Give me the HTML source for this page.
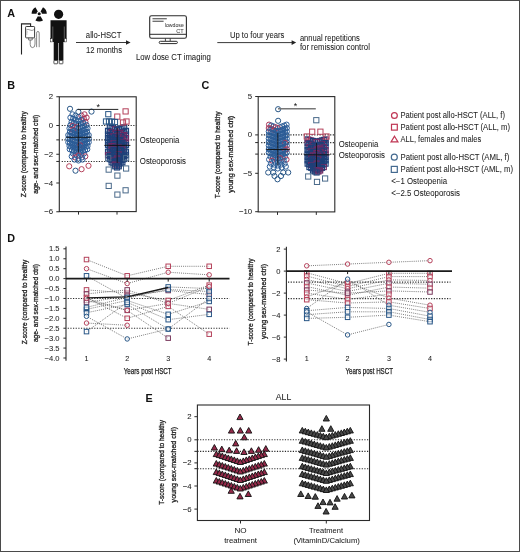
<!DOCTYPE html>
<html><head><meta charset="utf-8"><style>
html,body{margin:0;padding:0;background:#fff;overflow:hidden;}
svg{display:block;font-family:"Liberation Sans", sans-serif;will-change:transform;}
</style></head><body>
<svg width="520" height="552" viewBox="0 0 520 552">
<rect x="0.5" y="0.5" width="519" height="551" fill="none" stroke="#4a4a4a" stroke-width="1"/>
<text x="7.2" y="16.6" font-size="10.8" text-anchor="start" fill="#111" font-weight="bold">A</text>
<text x="7.2" y="89.3" font-size="10.8" text-anchor="start" fill="#111" font-weight="bold">B</text>
<text x="201.6" y="89.3" font-size="10.8" text-anchor="start" fill="#111" font-weight="bold">C</text>
<text x="7.2" y="241.8" font-size="10.8" text-anchor="start" fill="#111" font-weight="bold">D</text>
<text x="145.6" y="402.0" font-size="10.8" text-anchor="start" fill="#111" font-weight="bold">E</text>
<circle cx="39.2" cy="13.8" r="1.55" fill="#111"/>
<path d="M36.50,13.80 L31.60,13.80 A7.6,7.6 0 0 1 35.40,7.22 L37.85,11.46 A2.7,2.7 0 0 0 36.50,13.80 Z" fill="#111"/>
<path d="M40.55,11.46 L43.00,7.22 A7.6,7.6 0 0 1 46.80,13.80 L41.90,13.80 A2.7,2.7 0 0 0 40.55,11.46 Z" fill="#111"/>
<path d="M40.55,16.14 L43.00,20.38 A7.6,7.6 0 0 1 35.40,20.38 L37.85,16.14 A2.7,2.7 0 0 0 40.55,16.14 Z" fill="#111"/>
<circle cx="58.6" cy="14.3" r="4.6" fill="#111"/>
<path d="M50.5,20.2 L66.6,20.2 L66.6,38.7 L64.4,38.7 L64.4,42.0 L63.4,42.0 L63.4,60.4 L58.7,60.4 L58.7,43.0 L58.1,43.0 L58.1,60.4 L53.7,60.4 L53.7,42.0 L52.7,42.0 L52.7,38.7 L50.5,38.7 Z" fill="#111"/>
<rect x="50.6" y="38.7" width="2.0" height="3.2" fill="#fff" stroke="#111" stroke-width="0.5"/>
<rect x="64.5" y="38.7" width="2.0" height="3.2" fill="#fff" stroke="#111" stroke-width="0.5"/>
<rect x="53.9" y="60.4" width="3.7" height="3.4" rx="0.5" fill="#fff" stroke="#111" stroke-width="0.7"/>
<rect x="59.2" y="60.4" width="3.7" height="3.4" rx="0.5" fill="#fff" stroke="#111" stroke-width="0.7"/>
<line x1="52.8" y1="26.5" x2="52.8" y2="38.7" stroke="#bbb" stroke-width="0.45"/>
<line x1="64.3" y1="26.5" x2="64.3" y2="38.7" stroke="#bbb" stroke-width="0.45"/>
<path d="M21.5,54.4 L21.5,23.9 L30.6,23.9 L30.6,26.0" fill="none" stroke="#222" stroke-width="1.1"/>
<rect x="25.6" y="26.5" width="9.0" height="11.4" rx="0.8" fill="#fff" stroke="#222" stroke-width="0.9"/>
<path d="M26.2,30.0 Q28,28.8 30,30 T34,29.6" fill="none" stroke="#555" stroke-width="0.6"/>
<line x1="26.0" y1="32.0" x2="28.0" y2="32.0" stroke="#777" stroke-width="0.5"/>
<line x1="26.0" y1="34.0" x2="27.6" y2="34.0" stroke="#777" stroke-width="0.5"/>
<path d="M28.6,37.9 L28.6,40.0 L32.2,40.0 L32.2,37.9" fill="none" stroke="#444" stroke-width="0.7"/>
<path d="M30.2,40.0 L30.2,44.5 Q30.2,47.6 32.6,47.6 Q35.0,47.6 35.0,44.0 L35.0,37.9" fill="none" stroke="#555" stroke-width="0.7"/>
<path d="M36.6,47.2 L36.6,33.2 Q36.6,31.4 37.9,31.4 Q39.2,31.4 39.2,33.2 L39.2,47.2" fill="none" stroke="#555" stroke-width="0.7"/>
<line x1="76.0" y1="42.5" x2="127.0" y2="42.5" stroke="#222" stroke-width="0.9"/>
<path d="M130.6,42.5 L126.0,40.2 L126.0,44.8 Z" fill="#222"/>
<text x="103.6" y="37.8" font-size="8.3" text-anchor="middle" fill="#222" font-weight="normal" stroke="#222" stroke-width="0.05" textLength="35.5" lengthAdjust="spacingAndGlyphs">allo-HSCT</text>
<text x="104.0" y="53.0" font-size="8.3" text-anchor="middle" fill="#222" font-weight="normal" stroke="#222" stroke-width="0.05" textLength="36" lengthAdjust="spacingAndGlyphs">12 months</text>
<rect x="149.7" y="15.7" width="36.7" height="22.5" rx="1.8" fill="#fff" stroke="#2a2a2a" stroke-width="1.1"/>
<line x1="149.7" y1="34.3" x2="186.4" y2="34.3" stroke="#2a2a2a" stroke-width="1.0"/>
<line x1="165.4" y1="38.3" x2="165.4" y2="41.2" stroke="#333" stroke-width="0.9"/>
<line x1="170.2" y1="38.3" x2="170.2" y2="41.2" stroke="#333" stroke-width="0.9"/>
<rect x="159.2" y="41.3" width="18.2" height="2.3" rx="1.15" fill="#fff" stroke="#2a2a2a" stroke-width="1.0"/>
<line x1="152.5" y1="18.7" x2="166.8" y2="18.7" stroke="#6a6a6a" stroke-width="1.3"/>
<line x1="152.5" y1="21.3" x2="163.6" y2="21.3" stroke="#6a6a6a" stroke-width="1.3"/>
<text x="183.8" y="26.9" font-size="5.6" text-anchor="end" fill="#444" font-weight="normal" stroke="#444" stroke-width="0.05" textLength="19.0" lengthAdjust="spacingAndGlyphs">lowdose</text>
<text x="183.8" y="33.1" font-size="5.6" text-anchor="end" fill="#444" font-weight="normal" stroke="#444" stroke-width="0.05">CT</text>
<text x="136.0" y="59.8" font-size="8.3" text-anchor="start" fill="#222" font-weight="normal" stroke="#222" stroke-width="0.05" textLength="74.8" lengthAdjust="spacingAndGlyphs">Low dose CT imaging</text>
<line x1="217.3" y1="42.6" x2="292.5" y2="42.6" stroke="#222" stroke-width="0.9"/>
<path d="M296.2,42.6 L291.6,40.3 L291.6,44.9 Z" fill="#222"/>
<text x="229.9" y="38.1" font-size="8.3" text-anchor="start" fill="#222" font-weight="normal" stroke="#222" stroke-width="0.05" textLength="54.5" lengthAdjust="spacingAndGlyphs">Up to four years</text>
<text x="299.9" y="40.5" font-size="8.3" text-anchor="start" fill="#222" font-weight="normal" stroke="#222" stroke-width="0.05" textLength="60" lengthAdjust="spacingAndGlyphs">annual repetitions</text>
<text x="299.9" y="50.0" font-size="8.3" text-anchor="start" fill="#222" font-weight="normal" stroke="#222" stroke-width="0.05" textLength="70" lengthAdjust="spacingAndGlyphs">for remission control</text>
<rect x="59.3" y="96.8" width="76.89999999999999" height="114.8" fill="none" stroke="#2a2a2a" stroke-width="1.1"/>
<line x1="56.3" y1="96.75" x2="59.3" y2="96.75" stroke="#2a2a2a" stroke-width="1.0"/>
<text x="53.2" y="99.25" font-size="7.8" text-anchor="end" fill="#222" font-weight="normal" stroke="#222" stroke-width="0.05">2</text>
<line x1="56.3" y1="125.5" x2="59.3" y2="125.5" stroke="#2a2a2a" stroke-width="1.0"/>
<text x="53.2" y="128.0" font-size="7.8" text-anchor="end" fill="#222" font-weight="normal" stroke="#222" stroke-width="0.05">0</text>
<line x1="56.3" y1="154.25" x2="59.3" y2="154.25" stroke="#2a2a2a" stroke-width="1.0"/>
<text x="53.2" y="156.75" font-size="7.8" text-anchor="end" fill="#222" font-weight="normal" stroke="#222" stroke-width="0.05">−2</text>
<line x1="56.3" y1="183.0" x2="59.3" y2="183.0" stroke="#2a2a2a" stroke-width="1.0"/>
<text x="53.2" y="185.5" font-size="7.8" text-anchor="end" fill="#222" font-weight="normal" stroke="#222" stroke-width="0.05">−4</text>
<line x1="56.3" y1="211.75" x2="59.3" y2="211.75" stroke="#2a2a2a" stroke-width="1.0"/>
<text x="53.2" y="214.25" font-size="7.8" text-anchor="end" fill="#222" font-weight="normal" stroke="#222" stroke-width="0.05">−6</text>
<line x1="78.5" y1="211.6" x2="78.5" y2="214.6" stroke="#2a2a2a" stroke-width="1.0"/>
<line x1="117.0" y1="211.6" x2="117.0" y2="214.6" stroke="#2a2a2a" stroke-width="1.0"/>
<text transform="translate(26.3,154.3) rotate(-90)" x="0" y="0" font-size="7.5" text-anchor="middle" fill="#222" stroke="#222" stroke-width="0.3" textLength="86" lengthAdjust="spacingAndGlyphs">Z-score (compared to healthy</text>
<text transform="translate(37.7,154.3) rotate(-90)" x="0" y="0" font-size="7.5" text-anchor="middle" fill="#222" stroke="#222" stroke-width="0.3" textLength="79" lengthAdjust="spacingAndGlyphs">age- and sex-matched ctrl)</text>
<text x="139.8" y="142.9" font-size="8.3" text-anchor="start" fill="#222" font-weight="normal" stroke="#222" stroke-width="0.05" textLength="39.5" lengthAdjust="spacingAndGlyphs">Osteopenia</text>
<text x="139.8" y="164.0" font-size="8.3" text-anchor="start" fill="#222" font-weight="normal" stroke="#222" stroke-width="0.05" textLength="46.2" lengthAdjust="spacingAndGlyphs">Osteoporosis</text>
<rect x="258.2" y="96.6" width="76.60000000000002" height="115.30000000000001" fill="none" stroke="#2a2a2a" stroke-width="1.1"/>
<line x1="255.2" y1="96.5" x2="258.2" y2="96.5" stroke="#2a2a2a" stroke-width="1.0"/>
<text x="252.2" y="99.0" font-size="7.8" text-anchor="end" fill="#222" font-weight="normal" stroke="#222" stroke-width="0.05">5</text>
<line x1="255.2" y1="134.9" x2="258.2" y2="134.9" stroke="#2a2a2a" stroke-width="1.0"/>
<text x="252.2" y="137.4" font-size="7.8" text-anchor="end" fill="#222" font-weight="normal" stroke="#222" stroke-width="0.05">0</text>
<line x1="255.2" y1="173.3" x2="258.2" y2="173.3" stroke="#2a2a2a" stroke-width="1.0"/>
<text x="252.2" y="175.8" font-size="7.8" text-anchor="end" fill="#222" font-weight="normal" stroke="#222" stroke-width="0.05">−5</text>
<line x1="255.2" y1="211.7" x2="258.2" y2="211.7" stroke="#2a2a2a" stroke-width="1.0"/>
<text x="252.2" y="214.2" font-size="7.8" text-anchor="end" fill="#222" font-weight="normal" stroke="#222" stroke-width="0.05">−10</text>
<line x1="277.5" y1="211.9" x2="277.5" y2="214.9" stroke="#2a2a2a" stroke-width="1.0"/>
<line x1="316.3" y1="211.9" x2="316.3" y2="214.9" stroke="#2a2a2a" stroke-width="1.0"/>
<text transform="translate(220.4,154.8) rotate(-90)" x="0" y="0" font-size="7.5" text-anchor="middle" fill="#222" stroke="#222" stroke-width="0.3" textLength="87" lengthAdjust="spacingAndGlyphs">T-score (compared to healthy</text>
<text transform="translate(232.7,154.3) rotate(-90)" x="0" y="0" font-size="7.5" text-anchor="middle" fill="#222" stroke="#222" stroke-width="0.3" textLength="77" lengthAdjust="spacingAndGlyphs">young sex-matched ctrl)</text>
<text x="338.7" y="146.5" font-size="8.3" text-anchor="start" fill="#222" font-weight="normal" stroke="#222" stroke-width="0.05" textLength="39.5" lengthAdjust="spacingAndGlyphs">Osteopenia</text>
<text x="338.7" y="157.8" font-size="8.3" text-anchor="start" fill="#222" font-weight="normal" stroke="#222" stroke-width="0.05" textLength="46.2" lengthAdjust="spacingAndGlyphs">Osteoporosis</text>
<circle cx="394.40" cy="115.50" r="2.90" fill="none" stroke="#bf3553" stroke-width="1.2"/>
<rect x="391.50" y="124.30" width="5.80" height="5.80" fill="none" stroke="#bf3553" stroke-width="1.2"/>
<path d="M394.50,136.27 L397.95,141.97 L391.05,141.97 Z" fill="none" stroke="#bf3553" stroke-width="1.2" stroke-linejoin="miter"/>
<circle cx="394.30" cy="157.20" r="3.00" fill="none" stroke="#43698f" stroke-width="1.2"/>
<rect x="391.30" y="166.40" width="6.00" height="6.00" fill="none" stroke="#43698f" stroke-width="1.2"/>
<text x="400.5" y="118.2" font-size="8.3" text-anchor="start" fill="#222" font-weight="normal" stroke="#222" stroke-width="0.05" textLength="104.5" lengthAdjust="spacingAndGlyphs">Patient post allo-HSCT (ALL, f)</text>
<text x="400.5" y="129.6" font-size="8.3" text-anchor="start" fill="#222" font-weight="normal" stroke="#222" stroke-width="0.05" textLength="109.5" lengthAdjust="spacingAndGlyphs">Patient post allo-HSCT (ALL, m)</text>
<text x="400.5" y="142.0" font-size="8.3" text-anchor="start" fill="#222" font-weight="normal" stroke="#222" stroke-width="0.05" textLength="80.8" lengthAdjust="spacingAndGlyphs">ALL, females and males</text>
<text x="400.5" y="160.2" font-size="8.3" text-anchor="start" fill="#222" font-weight="normal" stroke="#222" stroke-width="0.05" textLength="108.8" lengthAdjust="spacingAndGlyphs">Patient post allo-HSCT (AML, f)</text>
<text x="400.5" y="171.6" font-size="8.3" text-anchor="start" fill="#222" font-weight="normal" stroke="#222" stroke-width="0.05" textLength="112.5" lengthAdjust="spacingAndGlyphs">Patient post allo-HSCT (AML, m)</text>
<text x="391.3" y="184.0" font-size="8.3" text-anchor="start" fill="#222" font-weight="normal" stroke="#222" stroke-width="0.05" textLength="55.7" lengthAdjust="spacingAndGlyphs">&lt;−1 Osteopenia</text>
<text x="391.3" y="196.0" font-size="8.3" text-anchor="start" fill="#222" font-weight="normal" stroke="#222" stroke-width="0.05" textLength="68.7" lengthAdjust="spacingAndGlyphs">&lt;−2.5 Osteoporosis</text>
<line x1="66.0" y1="246.5" x2="66.0" y2="360.8" stroke="#2a2a2a" stroke-width="1.1"/>
<line x1="63.4" y1="248.82500000000002" x2="66.0" y2="248.82500000000002" stroke="#2a2a2a" stroke-width="1.0"/>
<text x="59.6" y="251.32500000000002" font-size="7.6" text-anchor="end" fill="#222" font-weight="normal" stroke="#222" stroke-width="0.05">1.5</text>
<line x1="63.4" y1="258.75" x2="66.0" y2="258.75" stroke="#2a2a2a" stroke-width="1.0"/>
<text x="59.6" y="261.25" font-size="7.6" text-anchor="end" fill="#222" font-weight="normal" stroke="#222" stroke-width="0.05">1.0</text>
<line x1="63.4" y1="268.675" x2="66.0" y2="268.675" stroke="#2a2a2a" stroke-width="1.0"/>
<text x="59.6" y="271.175" font-size="7.6" text-anchor="end" fill="#222" font-weight="normal" stroke="#222" stroke-width="0.05">0.5</text>
<line x1="63.4" y1="278.6" x2="66.0" y2="278.6" stroke="#2a2a2a" stroke-width="1.0"/>
<text x="59.6" y="281.1" font-size="7.6" text-anchor="end" fill="#222" font-weight="normal" stroke="#222" stroke-width="0.05">0.0</text>
<line x1="63.4" y1="288.52500000000003" x2="66.0" y2="288.52500000000003" stroke="#2a2a2a" stroke-width="1.0"/>
<text x="59.6" y="291.02500000000003" font-size="7.6" text-anchor="end" fill="#222" font-weight="normal" stroke="#222" stroke-width="0.05">−0.5</text>
<line x1="63.4" y1="298.45000000000005" x2="66.0" y2="298.45000000000005" stroke="#2a2a2a" stroke-width="1.0"/>
<text x="59.6" y="300.95000000000005" font-size="7.6" text-anchor="end" fill="#222" font-weight="normal" stroke="#222" stroke-width="0.05">−1.0</text>
<line x1="63.4" y1="308.375" x2="66.0" y2="308.375" stroke="#2a2a2a" stroke-width="1.0"/>
<text x="59.6" y="310.875" font-size="7.6" text-anchor="end" fill="#222" font-weight="normal" stroke="#222" stroke-width="0.05">−1.5</text>
<line x1="63.4" y1="318.3" x2="66.0" y2="318.3" stroke="#2a2a2a" stroke-width="1.0"/>
<text x="59.6" y="320.8" font-size="7.6" text-anchor="end" fill="#222" font-weight="normal" stroke="#222" stroke-width="0.05">−2.0</text>
<line x1="63.4" y1="328.225" x2="66.0" y2="328.225" stroke="#2a2a2a" stroke-width="1.0"/>
<text x="59.6" y="330.725" font-size="7.6" text-anchor="end" fill="#222" font-weight="normal" stroke="#222" stroke-width="0.05">−2.5</text>
<line x1="63.4" y1="338.15000000000003" x2="66.0" y2="338.15000000000003" stroke="#2a2a2a" stroke-width="1.0"/>
<text x="59.6" y="340.65000000000003" font-size="7.6" text-anchor="end" fill="#222" font-weight="normal" stroke="#222" stroke-width="0.05">−3.0</text>
<line x1="63.4" y1="348.07500000000005" x2="66.0" y2="348.07500000000005" stroke="#2a2a2a" stroke-width="1.0"/>
<text x="59.6" y="350.57500000000005" font-size="7.6" text-anchor="end" fill="#222" font-weight="normal" stroke="#222" stroke-width="0.05">−3.5</text>
<line x1="63.4" y1="358.0" x2="66.0" y2="358.0" stroke="#2a2a2a" stroke-width="1.0"/>
<text x="59.6" y="360.5" font-size="7.6" text-anchor="end" fill="#222" font-weight="normal" stroke="#222" stroke-width="0.05">−4.0</text>
<text transform="translate(27.0,302.0) rotate(-90)" x="0" y="0" font-size="7.5" text-anchor="middle" fill="#222" stroke="#222" stroke-width="0.3" textLength="84.7" lengthAdjust="spacingAndGlyphs">Z-score (compared to healthy</text>
<text transform="translate(38.0,303.1) rotate(-90)" x="0" y="0" font-size="7.5" text-anchor="middle" fill="#222" stroke="#222" stroke-width="0.3" textLength="78" lengthAdjust="spacingAndGlyphs">age- and sex-matched ctrl)</text>
<text x="86.5" y="360.7" font-size="7.2" text-anchor="middle" fill="#222" font-weight="normal" stroke="#222" stroke-width="0.05">1</text>
<text x="127.2" y="360.7" font-size="7.2" text-anchor="middle" fill="#222" font-weight="normal" stroke="#222" stroke-width="0.05">2</text>
<text x="168.2" y="360.7" font-size="7.2" text-anchor="middle" fill="#222" font-weight="normal" stroke="#222" stroke-width="0.05">3</text>
<text x="209.2" y="360.7" font-size="7.2" text-anchor="middle" fill="#222" font-weight="normal" stroke="#222" stroke-width="0.05">4</text>
<text x="147.7" y="373.5" font-size="8.4" text-anchor="middle" fill="#222" font-weight="normal" stroke="#222" stroke-width="0.25" textLength="47.8" lengthAdjust="spacingAndGlyphs">Years post HSCT</text>
<line x1="286.4" y1="246.8" x2="286.4" y2="361.5" stroke="#2a2a2a" stroke-width="1.1"/>
<line x1="283.79999999999995" y1="249.10000000000002" x2="286.4" y2="249.10000000000002" stroke="#2a2a2a" stroke-width="1.0"/>
<text x="280.5" y="251.60000000000002" font-size="7.6" text-anchor="end" fill="#222" font-weight="normal" stroke="#222" stroke-width="0.05">2</text>
<line x1="283.79999999999995" y1="271.1" x2="286.4" y2="271.1" stroke="#2a2a2a" stroke-width="1.0"/>
<text x="280.5" y="273.6" font-size="7.6" text-anchor="end" fill="#222" font-weight="normal" stroke="#222" stroke-width="0.05">0</text>
<line x1="283.79999999999995" y1="293.1" x2="286.4" y2="293.1" stroke="#2a2a2a" stroke-width="1.0"/>
<text x="280.5" y="295.6" font-size="7.6" text-anchor="end" fill="#222" font-weight="normal" stroke="#222" stroke-width="0.05">−2</text>
<line x1="283.79999999999995" y1="315.1" x2="286.4" y2="315.1" stroke="#2a2a2a" stroke-width="1.0"/>
<text x="280.5" y="317.6" font-size="7.6" text-anchor="end" fill="#222" font-weight="normal" stroke="#222" stroke-width="0.05">−4</text>
<line x1="283.79999999999995" y1="337.1" x2="286.4" y2="337.1" stroke="#2a2a2a" stroke-width="1.0"/>
<text x="280.5" y="339.6" font-size="7.6" text-anchor="end" fill="#222" font-weight="normal" stroke="#222" stroke-width="0.05">−6</text>
<line x1="283.79999999999995" y1="359.1" x2="286.4" y2="359.1" stroke="#2a2a2a" stroke-width="1.0"/>
<text x="280.5" y="361.6" font-size="7.6" text-anchor="end" fill="#222" font-weight="normal" stroke="#222" stroke-width="0.05">−8</text>
<text transform="translate(253.2,302.0) rotate(-90)" x="0" y="0" font-size="7.5" text-anchor="middle" fill="#222" stroke="#222" stroke-width="0.3" textLength="87" lengthAdjust="spacingAndGlyphs">T-score (compared to healthy</text>
<text transform="translate(265.6,301.5) rotate(-90)" x="0" y="0" font-size="7.5" text-anchor="middle" fill="#222" stroke="#222" stroke-width="0.3" textLength="75" lengthAdjust="spacingAndGlyphs">young sex-matched ctrl)</text>
<text x="306.7" y="360.7" font-size="7.2" text-anchor="middle" fill="#222" font-weight="normal" stroke="#222" stroke-width="0.05">1</text>
<text x="347.6" y="360.7" font-size="7.2" text-anchor="middle" fill="#222" font-weight="normal" stroke="#222" stroke-width="0.05">2</text>
<text x="388.9" y="360.7" font-size="7.2" text-anchor="middle" fill="#222" font-weight="normal" stroke="#222" stroke-width="0.05">3</text>
<text x="430.0" y="360.7" font-size="7.2" text-anchor="middle" fill="#222" font-weight="normal" stroke="#222" stroke-width="0.05">4</text>
<text x="369.2" y="373.5" font-size="8.4" text-anchor="middle" fill="#222" font-weight="normal" stroke="#222" stroke-width="0.25" textLength="47.6" lengthAdjust="spacingAndGlyphs">Years post HSCT</text>
<rect x="197.4" y="405.0" width="172.1" height="115.5" fill="none" stroke="#2a2a2a" stroke-width="1.1"/>
<line x1="194.4" y1="416.7" x2="197.4" y2="416.7" stroke="#2a2a2a" stroke-width="1.0"/>
<text x="191.6" y="419.2" font-size="7.8" text-anchor="end" fill="#222" font-weight="normal" stroke="#222" stroke-width="0.05">2</text>
<line x1="194.4" y1="439.8" x2="197.4" y2="439.8" stroke="#2a2a2a" stroke-width="1.0"/>
<text x="191.6" y="442.3" font-size="7.8" text-anchor="end" fill="#222" font-weight="normal" stroke="#222" stroke-width="0.05">0</text>
<line x1="194.4" y1="462.90000000000003" x2="197.4" y2="462.90000000000003" stroke="#2a2a2a" stroke-width="1.0"/>
<text x="191.6" y="465.40000000000003" font-size="7.8" text-anchor="end" fill="#222" font-weight="normal" stroke="#222" stroke-width="0.05">−2</text>
<line x1="194.4" y1="486.0" x2="197.4" y2="486.0" stroke="#2a2a2a" stroke-width="1.0"/>
<text x="191.6" y="488.5" font-size="7.8" text-anchor="end" fill="#222" font-weight="normal" stroke="#222" stroke-width="0.05">−4</text>
<line x1="194.4" y1="509.1" x2="197.4" y2="509.1" stroke="#2a2a2a" stroke-width="1.0"/>
<text x="191.6" y="511.6" font-size="7.8" text-anchor="end" fill="#222" font-weight="normal" stroke="#222" stroke-width="0.05">−6</text>
<line x1="194.4" y1="451.35" x2="197.4" y2="451.35" stroke="#2a2a2a" stroke-width="1.0"/>
<line x1="194.4" y1="468.675" x2="197.4" y2="468.675" stroke="#2a2a2a" stroke-width="1.0"/>
<line x1="240.5" y1="520.5" x2="240.5" y2="523.5" stroke="#2a2a2a" stroke-width="1.0"/>
<line x1="326.3" y1="520.5" x2="326.3" y2="523.5" stroke="#2a2a2a" stroke-width="1.0"/>
<text x="283.5" y="400.2" font-size="9.1" text-anchor="middle" fill="#222" font-weight="normal" stroke="#222" stroke-width="0.05" textLength="15.4" lengthAdjust="spacingAndGlyphs">ALL</text>
<text transform="translate(164.0,462.4) rotate(-90)" x="0" y="0" font-size="7.5" text-anchor="middle" fill="#222" stroke="#222" stroke-width="0.3" textLength="84.7" lengthAdjust="spacingAndGlyphs">T-score (compared to healthy</text>
<text transform="translate(175.8,464.7) rotate(-90)" x="0" y="0" font-size="7.5" text-anchor="middle" fill="#222" stroke="#222" stroke-width="0.3" textLength="75.4" lengthAdjust="spacingAndGlyphs">young sex-matched ctrl)</text>
<text x="240.6" y="533.2" font-size="8.0" text-anchor="middle" fill="#222" font-weight="normal" stroke="#222" stroke-width="0.05" textLength="12.1" lengthAdjust="spacingAndGlyphs">NO</text>
<text x="240.6" y="543.0" font-size="8.0" text-anchor="middle" fill="#222" font-weight="normal" stroke="#222" stroke-width="0.05" textLength="32.9" lengthAdjust="spacingAndGlyphs">treatment</text>
<text x="326.0" y="533.2" font-size="8.0" text-anchor="middle" fill="#222" font-weight="normal" stroke="#222" stroke-width="0.05" textLength="34" lengthAdjust="spacingAndGlyphs">Treatment</text>
<text x="326.7" y="543.0" font-size="8.0" text-anchor="middle" fill="#222" font-weight="normal" stroke="#222" stroke-width="0.05" textLength="66.5" lengthAdjust="spacingAndGlyphs">(VitaminD/Calcium)</text>
<line x1="61.699999999999996" y1="125.5" x2="136.2" y2="125.5" stroke="#2a2a2a" stroke-width="1.1" stroke-dasharray="1.2 1.45"/>
<line x1="61.699999999999996" y1="139.875" x2="136.2" y2="139.875" stroke="#2a2a2a" stroke-width="1.1" stroke-dasharray="1.2 1.45"/>
<line x1="61.699999999999996" y1="161.4375" x2="136.2" y2="161.4375" stroke="#2a2a2a" stroke-width="1.1" stroke-dasharray="1.2 1.45"/>
<line x1="56.3" y1="139.875" x2="59.3" y2="139.875" stroke="#2a2a2a" stroke-width="1.0"/>
<line x1="56.3" y1="161.4375" x2="59.3" y2="161.4375" stroke="#2a2a2a" stroke-width="1.0"/>
<circle cx="72.50" cy="114.34" r="2.60" fill="none" stroke="#2a5b96" stroke-width="1.0"/>
<circle cx="84.50" cy="114.34" r="2.60" fill="none" stroke="#a8385a" stroke-width="1.0"/>
<circle cx="75.50" cy="115.67" r="2.60" fill="none" stroke="#2a5b96" stroke-width="1.0"/>
<circle cx="81.50" cy="115.67" r="2.60" fill="none" stroke="#a8385a" stroke-width="1.0"/>
<circle cx="78.50" cy="117.00" r="2.60" fill="none" stroke="#2a5b96" stroke-width="1.0"/>
<circle cx="70.40" cy="117.62" r="2.60" fill="none" stroke="#2a5b96" stroke-width="1.0"/>
<circle cx="86.60" cy="117.62" r="2.60" fill="none" stroke="#a8385a" stroke-width="1.0"/>
<circle cx="73.10" cy="118.75" r="2.60" fill="none" stroke="#2a5b96" stroke-width="1.0"/>
<circle cx="83.90" cy="118.75" r="2.60" fill="none" stroke="#a8385a" stroke-width="1.0"/>
<circle cx="75.80" cy="119.88" r="2.60" fill="none" stroke="#2a5b96" stroke-width="1.0"/>
<circle cx="81.20" cy="119.88" r="2.60" fill="none" stroke="#2a5b96" stroke-width="1.0"/>
<circle cx="78.50" cy="121.00" r="2.60" fill="none" stroke="#2a5b96" stroke-width="1.0"/>
<circle cx="71.60" cy="121.79" r="2.60" fill="none" stroke="#2a5b96" stroke-width="1.0"/>
<circle cx="85.40" cy="121.79" r="2.60" fill="none" stroke="#a8385a" stroke-width="1.0"/>
<circle cx="73.90" cy="122.69" r="2.60" fill="none" stroke="#2a5b96" stroke-width="1.0"/>
<circle cx="83.10" cy="122.69" r="2.60" fill="none" stroke="#2a5b96" stroke-width="1.0"/>
<circle cx="76.20" cy="123.60" r="2.60" fill="none" stroke="#2a5b96" stroke-width="1.0"/>
<circle cx="80.80" cy="123.60" r="2.60" fill="none" stroke="#2a5b96" stroke-width="1.0"/>
<circle cx="78.50" cy="124.50" r="2.60" fill="none" stroke="#2a5b96" stroke-width="1.0"/>
<circle cx="70.50" cy="125.02" r="2.60" fill="none" stroke="#2a5b96" stroke-width="1.0"/>
<circle cx="86.50" cy="125.02" r="2.60" fill="none" stroke="#2a5b96" stroke-width="1.0"/>
<circle cx="72.50" cy="125.77" r="2.60" fill="none" stroke="#a8385a" stroke-width="1.0"/>
<circle cx="84.50" cy="125.77" r="2.60" fill="none" stroke="#2a5b96" stroke-width="1.0"/>
<circle cx="74.50" cy="126.51" r="2.60" fill="none" stroke="#2a5b96" stroke-width="1.0"/>
<circle cx="82.50" cy="126.51" r="2.60" fill="none" stroke="#2a5b96" stroke-width="1.0"/>
<circle cx="76.50" cy="127.26" r="2.60" fill="none" stroke="#a8385a" stroke-width="1.0"/>
<circle cx="80.50" cy="127.26" r="2.60" fill="none" stroke="#2a5b96" stroke-width="1.0"/>
<circle cx="78.50" cy="128.00" r="2.60" fill="none" stroke="#2a5b96" stroke-width="1.0"/>
<circle cx="69.50" cy="128.36" r="2.60" fill="none" stroke="#2a5b96" stroke-width="1.0"/>
<circle cx="87.50" cy="128.36" r="2.60" fill="none" stroke="#2a5b96" stroke-width="1.0"/>
<circle cx="71.30" cy="129.09" r="2.60" fill="none" stroke="#2a5b96" stroke-width="1.0"/>
<circle cx="85.70" cy="129.09" r="2.60" fill="none" stroke="#2a5b96" stroke-width="1.0"/>
<circle cx="73.10" cy="129.82" r="2.60" fill="none" stroke="#a8385a" stroke-width="1.0"/>
<circle cx="83.90" cy="129.82" r="2.60" fill="none" stroke="#2a5b96" stroke-width="1.0"/>
<circle cx="74.90" cy="130.55" r="2.60" fill="none" stroke="#2a5b96" stroke-width="1.0"/>
<circle cx="82.10" cy="130.55" r="2.60" fill="none" stroke="#2a5b96" stroke-width="1.0"/>
<circle cx="76.70" cy="131.27" r="2.60" fill="none" stroke="#2a5b96" stroke-width="1.0"/>
<circle cx="80.30" cy="131.27" r="2.60" fill="none" stroke="#2a5b96" stroke-width="1.0"/>
<circle cx="78.50" cy="132.00" r="2.60" fill="none" stroke="#2a5b96" stroke-width="1.0"/>
<circle cx="70.00" cy="131.99" r="2.60" fill="none" stroke="#2a5b96" stroke-width="1.0"/>
<circle cx="87.00" cy="131.99" r="2.60" fill="none" stroke="#2a5b96" stroke-width="1.0"/>
<circle cx="71.70" cy="132.60" r="2.60" fill="none" stroke="#2a5b96" stroke-width="1.0"/>
<circle cx="85.30" cy="132.60" r="2.60" fill="none" stroke="#2a5b96" stroke-width="1.0"/>
<circle cx="73.40" cy="133.20" r="2.60" fill="none" stroke="#2a5b96" stroke-width="1.0"/>
<circle cx="83.60" cy="133.20" r="2.60" fill="none" stroke="#2a5b96" stroke-width="1.0"/>
<circle cx="75.10" cy="133.80" r="2.60" fill="none" stroke="#2a5b96" stroke-width="1.0"/>
<circle cx="81.90" cy="133.80" r="2.60" fill="none" stroke="#2a5b96" stroke-width="1.0"/>
<circle cx="76.80" cy="134.40" r="2.60" fill="none" stroke="#2a5b96" stroke-width="1.0"/>
<circle cx="80.20" cy="134.40" r="2.60" fill="none" stroke="#2a5b96" stroke-width="1.0"/>
<circle cx="78.50" cy="135.00" r="2.60" fill="none" stroke="#2a5b96" stroke-width="1.0"/>
<circle cx="68.30" cy="135.07" r="2.60" fill="none" stroke="#2a5b96" stroke-width="1.0"/>
<circle cx="88.70" cy="135.07" r="2.60" fill="none" stroke="#2a5b96" stroke-width="1.0"/>
<circle cx="70.00" cy="135.64" r="2.60" fill="none" stroke="#2a5b96" stroke-width="1.0"/>
<circle cx="87.00" cy="135.64" r="2.60" fill="none" stroke="#2a5b96" stroke-width="1.0"/>
<circle cx="71.70" cy="136.21" r="2.60" fill="none" stroke="#2a5b96" stroke-width="1.0"/>
<circle cx="85.30" cy="136.21" r="2.60" fill="none" stroke="#2a5b96" stroke-width="1.0"/>
<circle cx="73.40" cy="136.78" r="2.60" fill="none" stroke="#2a5b96" stroke-width="1.0"/>
<circle cx="83.60" cy="136.78" r="2.60" fill="none" stroke="#2a5b96" stroke-width="1.0"/>
<circle cx="75.10" cy="137.36" r="2.60" fill="none" stroke="#2a5b96" stroke-width="1.0"/>
<circle cx="81.90" cy="137.36" r="2.60" fill="none" stroke="#2a5b96" stroke-width="1.0"/>
<circle cx="76.80" cy="137.93" r="2.60" fill="none" stroke="#2a5b96" stroke-width="1.0"/>
<circle cx="80.20" cy="137.93" r="2.60" fill="none" stroke="#2a5b96" stroke-width="1.0"/>
<circle cx="78.50" cy="138.50" r="2.60" fill="none" stroke="#2a5b96" stroke-width="1.0"/>
<circle cx="68.30" cy="138.79" r="2.60" fill="none" stroke="#2a5b96" stroke-width="1.0"/>
<circle cx="88.70" cy="138.79" r="2.60" fill="none" stroke="#2a5b96" stroke-width="1.0"/>
<circle cx="70.00" cy="139.41" r="2.60" fill="none" stroke="#2a5b96" stroke-width="1.0"/>
<circle cx="87.00" cy="139.41" r="2.60" fill="none" stroke="#2a5b96" stroke-width="1.0"/>
<circle cx="71.70" cy="140.03" r="2.60" fill="none" stroke="#2a5b96" stroke-width="1.0"/>
<circle cx="85.30" cy="140.03" r="2.60" fill="none" stroke="#2a5b96" stroke-width="1.0"/>
<circle cx="73.40" cy="140.65" r="2.60" fill="none" stroke="#2a5b96" stroke-width="1.0"/>
<circle cx="83.60" cy="140.65" r="2.60" fill="none" stroke="#2a5b96" stroke-width="1.0"/>
<circle cx="75.10" cy="141.26" r="2.60" fill="none" stroke="#2a5b96" stroke-width="1.0"/>
<circle cx="81.90" cy="141.26" r="2.60" fill="none" stroke="#2a5b96" stroke-width="1.0"/>
<circle cx="76.80" cy="141.88" r="2.60" fill="none" stroke="#2a5b96" stroke-width="1.0"/>
<circle cx="80.20" cy="141.88" r="2.60" fill="none" stroke="#2a5b96" stroke-width="1.0"/>
<circle cx="78.50" cy="142.50" r="2.60" fill="none" stroke="#2a5b96" stroke-width="1.0"/>
<circle cx="68.30" cy="142.29" r="2.60" fill="none" stroke="#2a5b96" stroke-width="1.0"/>
<circle cx="88.70" cy="142.29" r="2.60" fill="none" stroke="#2a5b96" stroke-width="1.0"/>
<circle cx="70.00" cy="142.91" r="2.60" fill="none" stroke="#2a5b96" stroke-width="1.0"/>
<circle cx="87.00" cy="142.91" r="2.60" fill="none" stroke="#2a5b96" stroke-width="1.0"/>
<circle cx="71.70" cy="143.53" r="2.60" fill="none" stroke="#2a5b96" stroke-width="1.0"/>
<circle cx="85.30" cy="143.53" r="2.60" fill="none" stroke="#2a5b96" stroke-width="1.0"/>
<circle cx="73.40" cy="144.15" r="2.60" fill="none" stroke="#2a5b96" stroke-width="1.0"/>
<circle cx="83.60" cy="144.15" r="2.60" fill="none" stroke="#2a5b96" stroke-width="1.0"/>
<circle cx="75.10" cy="144.76" r="2.60" fill="none" stroke="#2a5b96" stroke-width="1.0"/>
<circle cx="81.90" cy="144.76" r="2.60" fill="none" stroke="#2a5b96" stroke-width="1.0"/>
<circle cx="76.80" cy="145.38" r="2.60" fill="none" stroke="#2a5b96" stroke-width="1.0"/>
<circle cx="80.20" cy="145.38" r="2.60" fill="none" stroke="#a8385a" stroke-width="1.0"/>
<circle cx="78.50" cy="146.00" r="2.60" fill="none" stroke="#2a5b96" stroke-width="1.0"/>
<circle cx="69.50" cy="146.03" r="2.60" fill="none" stroke="#2a5b96" stroke-width="1.0"/>
<circle cx="87.50" cy="146.03" r="2.60" fill="none" stroke="#2a5b96" stroke-width="1.0"/>
<circle cx="71.30" cy="146.62" r="2.60" fill="none" stroke="#2a5b96" stroke-width="1.0"/>
<circle cx="85.70" cy="146.62" r="2.60" fill="none" stroke="#2a5b96" stroke-width="1.0"/>
<circle cx="73.10" cy="147.22" r="2.60" fill="none" stroke="#2a5b96" stroke-width="1.0"/>
<circle cx="83.90" cy="147.22" r="2.60" fill="none" stroke="#2a5b96" stroke-width="1.0"/>
<circle cx="74.90" cy="147.81" r="2.60" fill="none" stroke="#2a5b96" stroke-width="1.0"/>
<circle cx="82.10" cy="147.81" r="2.60" fill="none" stroke="#2a5b96" stroke-width="1.0"/>
<circle cx="76.70" cy="148.41" r="2.60" fill="none" stroke="#2a5b96" stroke-width="1.0"/>
<circle cx="80.30" cy="148.41" r="2.60" fill="none" stroke="#2a5b96" stroke-width="1.0"/>
<circle cx="78.50" cy="149.00" r="2.60" fill="none" stroke="#2a5b96" stroke-width="1.0"/>
<circle cx="69.70" cy="149.22" r="2.60" fill="none" stroke="#2a5b96" stroke-width="1.0"/>
<circle cx="87.30" cy="149.22" r="2.60" fill="none" stroke="#2a5b96" stroke-width="1.0"/>
<circle cx="71.90" cy="150.04" r="2.60" fill="none" stroke="#2a5b96" stroke-width="1.0"/>
<circle cx="85.10" cy="150.04" r="2.60" fill="none" stroke="#2a5b96" stroke-width="1.0"/>
<circle cx="74.10" cy="150.86" r="2.60" fill="none" stroke="#2a5b96" stroke-width="1.0"/>
<circle cx="82.90" cy="150.86" r="2.60" fill="none" stroke="#2a5b96" stroke-width="1.0"/>
<circle cx="76.30" cy="151.68" r="2.60" fill="none" stroke="#2a5b96" stroke-width="1.0"/>
<circle cx="80.70" cy="151.68" r="2.60" fill="none" stroke="#2a5b96" stroke-width="1.0"/>
<circle cx="78.50" cy="152.50" r="2.60" fill="none" stroke="#2a5b96" stroke-width="1.0"/>
<circle cx="72.90" cy="153.45" r="2.60" fill="none" stroke="#2a5b96" stroke-width="1.0"/>
<circle cx="84.10" cy="153.45" r="2.60" fill="none" stroke="#2a5b96" stroke-width="1.0"/>
<circle cx="75.70" cy="154.48" r="2.60" fill="none" stroke="#2a5b96" stroke-width="1.0"/>
<circle cx="81.30" cy="154.48" r="2.60" fill="none" stroke="#2a5b96" stroke-width="1.0"/>
<circle cx="78.50" cy="155.50" r="2.60" fill="none" stroke="#a8385a" stroke-width="1.0"/>
<circle cx="71.70" cy="156.35" r="2.60" fill="none" stroke="#2a5b96" stroke-width="1.0"/>
<circle cx="85.30" cy="156.35" r="2.60" fill="none" stroke="#a8385a" stroke-width="1.0"/>
<circle cx="75.10" cy="157.42" r="2.60" fill="none" stroke="#a8385a" stroke-width="1.0"/>
<circle cx="81.90" cy="157.42" r="2.60" fill="none" stroke="#2a5b96" stroke-width="1.0"/>
<circle cx="78.50" cy="158.50" r="2.60" fill="none" stroke="#2a5b96" stroke-width="1.0"/>
<circle cx="74.50" cy="159.56" r="2.60" fill="none" stroke="#2a5b96" stroke-width="1.0"/>
<circle cx="82.50" cy="159.56" r="2.60" fill="none" stroke="#2a5b96" stroke-width="1.0"/>
<circle cx="78.50" cy="160.50" r="2.60" fill="none" stroke="#2a5b96" stroke-width="1.0"/>
<circle cx="70.00" cy="108.80" r="2.60" fill="none" stroke="#285686" stroke-width="1.0"/>
<circle cx="78.40" cy="111.90" r="2.60" fill="none" stroke="#285686" stroke-width="1.0"/>
<circle cx="91.50" cy="111.60" r="2.60" fill="none" stroke="#285686" stroke-width="1.0"/>
<circle cx="69.20" cy="166.30" r="2.60" fill="none" stroke="#b4415a" stroke-width="1.0"/>
<circle cx="75.50" cy="170.70" r="2.60" fill="none" stroke="#285686" stroke-width="1.0"/>
<circle cx="81.60" cy="169.20" r="2.60" fill="none" stroke="#b4415a" stroke-width="1.0"/>
<circle cx="88.50" cy="165.80" r="2.60" fill="none" stroke="#b4415a" stroke-width="1.0"/>
<rect x="107.30" y="124.80" width="5.00" height="5.00" fill="none" stroke="#1e4079" stroke-width="1.15"/>
<rect x="121.70" y="124.80" width="5.00" height="5.00" fill="none" stroke="#1e4079" stroke-width="1.15"/>
<rect x="109.10" y="125.47" width="5.00" height="5.00" fill="none" stroke="#1e4079" stroke-width="1.15"/>
<rect x="119.90" y="125.47" width="5.00" height="5.00" fill="none" stroke="#1e4079" stroke-width="1.15"/>
<rect x="110.90" y="126.15" width="5.00" height="5.00" fill="none" stroke="#1e4079" stroke-width="1.15"/>
<rect x="118.10" y="126.15" width="5.00" height="5.00" fill="none" stroke="#1e4079" stroke-width="1.15"/>
<rect x="112.70" y="126.82" width="5.00" height="5.00" fill="none" stroke="#6e2a64" stroke-width="1.15"/>
<rect x="116.30" y="126.82" width="5.00" height="5.00" fill="none" stroke="#1e4079" stroke-width="1.15"/>
<rect x="114.50" y="127.50" width="5.00" height="5.00" fill="none" stroke="#1e4079" stroke-width="1.15"/>
<rect x="105.50" y="128.35" width="5.00" height="5.00" fill="none" stroke="#1e4079" stroke-width="1.15"/>
<rect x="123.50" y="128.35" width="5.00" height="5.00" fill="none" stroke="#1e4079" stroke-width="1.15"/>
<rect x="107.30" y="128.98" width="5.00" height="5.00" fill="none" stroke="#1e4079" stroke-width="1.15"/>
<rect x="121.70" y="128.98" width="5.00" height="5.00" fill="none" stroke="#1e4079" stroke-width="1.15"/>
<rect x="109.10" y="129.61" width="5.00" height="5.00" fill="none" stroke="#6e2a64" stroke-width="1.15"/>
<rect x="119.90" y="129.61" width="5.00" height="5.00" fill="none" stroke="#1e4079" stroke-width="1.15"/>
<rect x="110.90" y="130.24" width="5.00" height="5.00" fill="none" stroke="#1e4079" stroke-width="1.15"/>
<rect x="118.10" y="130.24" width="5.00" height="5.00" fill="none" stroke="#6e2a64" stroke-width="1.15"/>
<rect x="112.70" y="130.87" width="5.00" height="5.00" fill="none" stroke="#6e2a64" stroke-width="1.15"/>
<rect x="116.30" y="130.87" width="5.00" height="5.00" fill="none" stroke="#6e2a64" stroke-width="1.15"/>
<rect x="114.50" y="131.50" width="5.00" height="5.00" fill="none" stroke="#1e4079" stroke-width="1.15"/>
<rect x="105.50" y="132.00" width="5.00" height="5.00" fill="none" stroke="#1e4079" stroke-width="1.15"/>
<rect x="123.50" y="132.00" width="5.00" height="5.00" fill="none" stroke="#1e4079" stroke-width="1.15"/>
<rect x="107.30" y="132.60" width="5.00" height="5.00" fill="none" stroke="#1e4079" stroke-width="1.15"/>
<rect x="121.70" y="132.60" width="5.00" height="5.00" fill="none" stroke="#6e2a64" stroke-width="1.15"/>
<rect x="109.10" y="133.20" width="5.00" height="5.00" fill="none" stroke="#1e4079" stroke-width="1.15"/>
<rect x="119.90" y="133.20" width="5.00" height="5.00" fill="none" stroke="#6e2a64" stroke-width="1.15"/>
<rect x="110.90" y="133.80" width="5.00" height="5.00" fill="none" stroke="#6e2a64" stroke-width="1.15"/>
<rect x="118.10" y="133.80" width="5.00" height="5.00" fill="none" stroke="#1e4079" stroke-width="1.15"/>
<rect x="112.70" y="134.40" width="5.00" height="5.00" fill="none" stroke="#1e4079" stroke-width="1.15"/>
<rect x="116.30" y="134.40" width="5.00" height="5.00" fill="none" stroke="#6e2a64" stroke-width="1.15"/>
<rect x="114.50" y="135.00" width="5.00" height="5.00" fill="none" stroke="#1e4079" stroke-width="1.15"/>
<rect x="105.50" y="135.50" width="5.00" height="5.00" fill="none" stroke="#1e4079" stroke-width="1.15"/>
<rect x="123.50" y="135.50" width="5.00" height="5.00" fill="none" stroke="#6e2a64" stroke-width="1.15"/>
<rect x="107.30" y="136.10" width="5.00" height="5.00" fill="none" stroke="#1e4079" stroke-width="1.15"/>
<rect x="121.70" y="136.10" width="5.00" height="5.00" fill="none" stroke="#1e4079" stroke-width="1.15"/>
<rect x="109.10" y="136.70" width="5.00" height="5.00" fill="none" stroke="#1e4079" stroke-width="1.15"/>
<rect x="119.90" y="136.70" width="5.00" height="5.00" fill="none" stroke="#6e2a64" stroke-width="1.15"/>
<rect x="110.90" y="137.30" width="5.00" height="5.00" fill="none" stroke="#1e4079" stroke-width="1.15"/>
<rect x="118.10" y="137.30" width="5.00" height="5.00" fill="none" stroke="#1e4079" stroke-width="1.15"/>
<rect x="112.70" y="137.90" width="5.00" height="5.00" fill="none" stroke="#1e4079" stroke-width="1.15"/>
<rect x="116.30" y="137.90" width="5.00" height="5.00" fill="none" stroke="#1e4079" stroke-width="1.15"/>
<rect x="114.50" y="138.50" width="5.00" height="5.00" fill="none" stroke="#1e4079" stroke-width="1.15"/>
<rect x="105.50" y="139.00" width="5.00" height="5.00" fill="none" stroke="#1e4079" stroke-width="1.15"/>
<rect x="123.50" y="139.00" width="5.00" height="5.00" fill="none" stroke="#6e2a64" stroke-width="1.15"/>
<rect x="107.30" y="139.60" width="5.00" height="5.00" fill="none" stroke="#1e4079" stroke-width="1.15"/>
<rect x="121.70" y="139.60" width="5.00" height="5.00" fill="none" stroke="#6e2a64" stroke-width="1.15"/>
<rect x="109.10" y="140.20" width="5.00" height="5.00" fill="none" stroke="#1e4079" stroke-width="1.15"/>
<rect x="119.90" y="140.20" width="5.00" height="5.00" fill="none" stroke="#1e4079" stroke-width="1.15"/>
<rect x="110.90" y="140.80" width="5.00" height="5.00" fill="none" stroke="#6e2a64" stroke-width="1.15"/>
<rect x="118.10" y="140.80" width="5.00" height="5.00" fill="none" stroke="#1e4079" stroke-width="1.15"/>
<rect x="112.70" y="141.40" width="5.00" height="5.00" fill="none" stroke="#1e4079" stroke-width="1.15"/>
<rect x="116.30" y="141.40" width="5.00" height="5.00" fill="none" stroke="#1e4079" stroke-width="1.15"/>
<rect x="114.50" y="142.00" width="5.00" height="5.00" fill="none" stroke="#1e4079" stroke-width="1.15"/>
<rect x="105.50" y="142.35" width="5.00" height="5.00" fill="none" stroke="#1e4079" stroke-width="1.15"/>
<rect x="123.50" y="142.35" width="5.00" height="5.00" fill="none" stroke="#1e4079" stroke-width="1.15"/>
<rect x="107.30" y="142.98" width="5.00" height="5.00" fill="none" stroke="#1e4079" stroke-width="1.15"/>
<rect x="121.70" y="142.98" width="5.00" height="5.00" fill="none" stroke="#1e4079" stroke-width="1.15"/>
<rect x="109.10" y="143.61" width="5.00" height="5.00" fill="none" stroke="#6e2a64" stroke-width="1.15"/>
<rect x="119.90" y="143.61" width="5.00" height="5.00" fill="none" stroke="#1e4079" stroke-width="1.15"/>
<rect x="110.90" y="144.24" width="5.00" height="5.00" fill="none" stroke="#6e2a64" stroke-width="1.15"/>
<rect x="118.10" y="144.24" width="5.00" height="5.00" fill="none" stroke="#1e4079" stroke-width="1.15"/>
<rect x="112.70" y="144.87" width="5.00" height="5.00" fill="none" stroke="#1e4079" stroke-width="1.15"/>
<rect x="116.30" y="144.87" width="5.00" height="5.00" fill="none" stroke="#6e2a64" stroke-width="1.15"/>
<rect x="114.50" y="145.50" width="5.00" height="5.00" fill="none" stroke="#1e4079" stroke-width="1.15"/>
<rect x="107.30" y="146.20" width="5.00" height="5.00" fill="none" stroke="#1e4079" stroke-width="1.15"/>
<rect x="121.70" y="146.20" width="5.00" height="5.00" fill="none" stroke="#1e4079" stroke-width="1.15"/>
<rect x="109.10" y="146.90" width="5.00" height="5.00" fill="none" stroke="#6e2a64" stroke-width="1.15"/>
<rect x="119.90" y="146.90" width="5.00" height="5.00" fill="none" stroke="#6e2a64" stroke-width="1.15"/>
<rect x="110.90" y="147.60" width="5.00" height="5.00" fill="none" stroke="#1e4079" stroke-width="1.15"/>
<rect x="118.10" y="147.60" width="5.00" height="5.00" fill="none" stroke="#1e4079" stroke-width="1.15"/>
<rect x="112.70" y="148.30" width="5.00" height="5.00" fill="none" stroke="#1e4079" stroke-width="1.15"/>
<rect x="116.30" y="148.30" width="5.00" height="5.00" fill="none" stroke="#1e4079" stroke-width="1.15"/>
<rect x="114.50" y="149.00" width="5.00" height="5.00" fill="none" stroke="#1e4079" stroke-width="1.15"/>
<rect x="105.50" y="149.18" width="5.00" height="5.00" fill="none" stroke="#1e4079" stroke-width="1.15"/>
<rect x="123.50" y="149.18" width="5.00" height="5.00" fill="none" stroke="#1e4079" stroke-width="1.15"/>
<rect x="107.30" y="149.85" width="5.00" height="5.00" fill="none" stroke="#1e4079" stroke-width="1.15"/>
<rect x="121.70" y="149.85" width="5.00" height="5.00" fill="none" stroke="#1e4079" stroke-width="1.15"/>
<rect x="109.10" y="150.51" width="5.00" height="5.00" fill="none" stroke="#1e4079" stroke-width="1.15"/>
<rect x="119.90" y="150.51" width="5.00" height="5.00" fill="none" stroke="#1e4079" stroke-width="1.15"/>
<rect x="110.90" y="151.17" width="5.00" height="5.00" fill="none" stroke="#1e4079" stroke-width="1.15"/>
<rect x="118.10" y="151.17" width="5.00" height="5.00" fill="none" stroke="#1e4079" stroke-width="1.15"/>
<rect x="112.70" y="151.84" width="5.00" height="5.00" fill="none" stroke="#1e4079" stroke-width="1.15"/>
<rect x="116.30" y="151.84" width="5.00" height="5.00" fill="none" stroke="#6e2a64" stroke-width="1.15"/>
<rect x="114.50" y="152.50" width="5.00" height="5.00" fill="none" stroke="#1e4079" stroke-width="1.15"/>
<rect x="105.50" y="152.68" width="5.00" height="5.00" fill="none" stroke="#6e2a64" stroke-width="1.15"/>
<rect x="123.50" y="152.68" width="5.00" height="5.00" fill="none" stroke="#1e4079" stroke-width="1.15"/>
<rect x="107.30" y="153.35" width="5.00" height="5.00" fill="none" stroke="#1e4079" stroke-width="1.15"/>
<rect x="121.70" y="153.35" width="5.00" height="5.00" fill="none" stroke="#1e4079" stroke-width="1.15"/>
<rect x="109.10" y="154.01" width="5.00" height="5.00" fill="none" stroke="#1e4079" stroke-width="1.15"/>
<rect x="119.90" y="154.01" width="5.00" height="5.00" fill="none" stroke="#1e4079" stroke-width="1.15"/>
<rect x="110.90" y="154.67" width="5.00" height="5.00" fill="none" stroke="#1e4079" stroke-width="1.15"/>
<rect x="118.10" y="154.67" width="5.00" height="5.00" fill="none" stroke="#1e4079" stroke-width="1.15"/>
<rect x="112.70" y="155.34" width="5.00" height="5.00" fill="none" stroke="#1e4079" stroke-width="1.15"/>
<rect x="116.30" y="155.34" width="5.00" height="5.00" fill="none" stroke="#1e4079" stroke-width="1.15"/>
<rect x="114.50" y="156.00" width="5.00" height="5.00" fill="none" stroke="#6e2a64" stroke-width="1.15"/>
<rect x="107.30" y="156.54" width="5.00" height="5.00" fill="none" stroke="#1e4079" stroke-width="1.15"/>
<rect x="121.70" y="156.54" width="5.00" height="5.00" fill="none" stroke="#1e4079" stroke-width="1.15"/>
<rect x="109.10" y="157.28" width="5.00" height="5.00" fill="none" stroke="#1e4079" stroke-width="1.15"/>
<rect x="119.90" y="157.28" width="5.00" height="5.00" fill="none" stroke="#1e4079" stroke-width="1.15"/>
<rect x="110.90" y="158.02" width="5.00" height="5.00" fill="none" stroke="#6e2a64" stroke-width="1.15"/>
<rect x="118.10" y="158.02" width="5.00" height="5.00" fill="none" stroke="#1e4079" stroke-width="1.15"/>
<rect x="112.70" y="158.76" width="5.00" height="5.00" fill="none" stroke="#1e4079" stroke-width="1.15"/>
<rect x="116.30" y="158.76" width="5.00" height="5.00" fill="none" stroke="#1e4079" stroke-width="1.15"/>
<rect x="114.50" y="159.50" width="5.00" height="5.00" fill="none" stroke="#1e4079" stroke-width="1.15"/>
<rect x="109.10" y="159.85" width="5.00" height="5.00" fill="none" stroke="#1e4079" stroke-width="1.15"/>
<rect x="119.90" y="159.85" width="5.00" height="5.00" fill="none" stroke="#1e4079" stroke-width="1.15"/>
<rect x="110.90" y="160.90" width="5.00" height="5.00" fill="none" stroke="#1e4079" stroke-width="1.15"/>
<rect x="118.10" y="160.90" width="5.00" height="5.00" fill="none" stroke="#1e4079" stroke-width="1.15"/>
<rect x="112.70" y="161.95" width="5.00" height="5.00" fill="none" stroke="#6e2a64" stroke-width="1.15"/>
<rect x="116.30" y="161.95" width="5.00" height="5.00" fill="none" stroke="#1e4079" stroke-width="1.15"/>
<rect x="114.50" y="163.00" width="5.00" height="5.00" fill="none" stroke="#6e2a64" stroke-width="1.15"/>
<rect x="112.70" y="163.80" width="5.00" height="5.00" fill="none" stroke="#1e4079" stroke-width="1.15"/>
<rect x="116.30" y="163.80" width="5.00" height="5.00" fill="none" stroke="#1e4079" stroke-width="1.15"/>
<rect x="114.50" y="165.00" width="5.00" height="5.00" fill="none" stroke="#1e4079" stroke-width="1.15"/>
<rect x="105.70" y="111.60" width="5.20" height="5.20" fill="none" stroke="#285686" stroke-width="1.0"/>
<rect x="114.70" y="114.00" width="5.20" height="5.20" fill="none" stroke="#b4415a" stroke-width="1.0"/>
<rect x="123.00" y="108.80" width="5.20" height="5.20" fill="none" stroke="#b4415a" stroke-width="1.0"/>
<rect x="103.40" y="118.90" width="5.20" height="5.20" fill="none" stroke="#285686" stroke-width="1.0"/>
<rect x="106.40" y="118.90" width="5.20" height="5.20" fill="none" stroke="#285686" stroke-width="1.0"/>
<rect x="109.40" y="118.90" width="5.20" height="5.20" fill="none" stroke="#285686" stroke-width="1.0"/>
<rect x="112.40" y="119.40" width="5.20" height="5.20" fill="none" stroke="#285686" stroke-width="1.0"/>
<rect x="120.40" y="119.90" width="5.20" height="5.20" fill="none" stroke="#b4415a" stroke-width="1.0"/>
<rect x="123.90" y="118.90" width="5.20" height="5.20" fill="none" stroke="#b4415a" stroke-width="1.0"/>
<rect x="105.60" y="155.60" width="5.20" height="5.20" fill="none" stroke="#4a6a8a" stroke-width="1.0"/>
<rect x="123.50" y="155.60" width="5.20" height="5.20" fill="none" stroke="#4a6a8a" stroke-width="1.0"/>
<rect x="106.10" y="167.00" width="5.20" height="5.20" fill="none" stroke="#4a6a8a" stroke-width="1.0"/>
<rect x="123.50" y="165.90" width="5.20" height="5.20" fill="none" stroke="#4a6a8a" stroke-width="1.0"/>
<rect x="114.80" y="173.00" width="5.20" height="5.20" fill="none" stroke="#4a6a8a" stroke-width="1.0"/>
<rect x="106.10" y="183.30" width="5.20" height="5.20" fill="none" stroke="#4a6a8a" stroke-width="1.0"/>
<rect x="114.80" y="192.00" width="5.20" height="5.20" fill="none" stroke="#4a6a8a" stroke-width="1.0"/>
<rect x="123.00" y="187.70" width="5.20" height="5.20" fill="none" stroke="#4a6a8a" stroke-width="1.0"/>
<line x1="66.2" y1="137.3" x2="91.5" y2="137.3" stroke="#111" stroke-width="0.9"/>
<line x1="78.4" y1="123" x2="78.4" y2="152.5" stroke="#111" stroke-width="0.8"/>
<line x1="104.3" y1="145.4" x2="130.4" y2="145.4" stroke="#111" stroke-width="0.9"/>
<line x1="117.2" y1="128" x2="117.2" y2="163" stroke="#111" stroke-width="0.8"/>
<line x1="77.5" y1="109.4" x2="118.3" y2="109.4" stroke="#222" stroke-width="1.0"/>
<text x="98.2" y="109.6" font-size="9" text-anchor="middle" fill="#111">*</text>
<line x1="261.2" y1="134.9" x2="334.8" y2="134.9" stroke="#2a2a2a" stroke-width="1.1" stroke-dasharray="1.2 1.45"/>
<line x1="261.2" y1="142.58" x2="334.8" y2="142.58" stroke="#2a2a2a" stroke-width="1.1" stroke-dasharray="1.2 1.45"/>
<line x1="261.2" y1="154.1" x2="334.8" y2="154.1" stroke="#2a2a2a" stroke-width="1.1" stroke-dasharray="1.2 1.45"/>
<line x1="255.2" y1="142.58" x2="258.2" y2="142.58" stroke="#2a2a2a" stroke-width="1.0"/>
<line x1="255.2" y1="154.1" x2="258.2" y2="154.1" stroke="#2a2a2a" stroke-width="1.0"/>
<circle cx="269.00" cy="124.64" r="2.60" fill="none" stroke="#a8385a" stroke-width="1.0"/>
<circle cx="286.60" cy="124.64" r="2.60" fill="none" stroke="#2a5b96" stroke-width="1.0"/>
<circle cx="271.20" cy="125.50" r="2.60" fill="none" stroke="#2a5b96" stroke-width="1.0"/>
<circle cx="284.40" cy="125.50" r="2.60" fill="none" stroke="#2a5b96" stroke-width="1.0"/>
<circle cx="273.40" cy="126.37" r="2.60" fill="none" stroke="#2a5b96" stroke-width="1.0"/>
<circle cx="282.20" cy="126.37" r="2.60" fill="none" stroke="#2a5b96" stroke-width="1.0"/>
<circle cx="275.60" cy="127.23" r="2.60" fill="none" stroke="#a8385a" stroke-width="1.0"/>
<circle cx="280.00" cy="127.23" r="2.60" fill="none" stroke="#2a5b96" stroke-width="1.0"/>
<circle cx="277.80" cy="128.10" r="2.60" fill="none" stroke="#a8385a" stroke-width="1.0"/>
<circle cx="268.80" cy="128.08" r="2.60" fill="none" stroke="#a8385a" stroke-width="1.0"/>
<circle cx="286.80" cy="128.08" r="2.60" fill="none" stroke="#2a5b96" stroke-width="1.0"/>
<circle cx="270.60" cy="128.76" r="2.60" fill="none" stroke="#a8385a" stroke-width="1.0"/>
<circle cx="285.00" cy="128.76" r="2.60" fill="none" stroke="#2a5b96" stroke-width="1.0"/>
<circle cx="272.40" cy="129.45" r="2.60" fill="none" stroke="#2a5b96" stroke-width="1.0"/>
<circle cx="283.20" cy="129.45" r="2.60" fill="none" stroke="#2a5b96" stroke-width="1.0"/>
<circle cx="274.20" cy="130.13" r="2.60" fill="none" stroke="#a8385a" stroke-width="1.0"/>
<circle cx="281.40" cy="130.13" r="2.60" fill="none" stroke="#2a5b96" stroke-width="1.0"/>
<circle cx="276.00" cy="130.82" r="2.60" fill="none" stroke="#2a5b96" stroke-width="1.0"/>
<circle cx="279.60" cy="130.82" r="2.60" fill="none" stroke="#2a5b96" stroke-width="1.0"/>
<circle cx="277.80" cy="131.50" r="2.60" fill="none" stroke="#2a5b96" stroke-width="1.0"/>
<circle cx="268.80" cy="131.58" r="2.60" fill="none" stroke="#2a5b96" stroke-width="1.0"/>
<circle cx="286.80" cy="131.58" r="2.60" fill="none" stroke="#2a5b96" stroke-width="1.0"/>
<circle cx="270.60" cy="132.26" r="2.60" fill="none" stroke="#2a5b96" stroke-width="1.0"/>
<circle cx="285.00" cy="132.26" r="2.60" fill="none" stroke="#2a5b96" stroke-width="1.0"/>
<circle cx="272.40" cy="132.95" r="2.60" fill="none" stroke="#2a5b96" stroke-width="1.0"/>
<circle cx="283.20" cy="132.95" r="2.60" fill="none" stroke="#2a5b96" stroke-width="1.0"/>
<circle cx="274.20" cy="133.63" r="2.60" fill="none" stroke="#2a5b96" stroke-width="1.0"/>
<circle cx="281.40" cy="133.63" r="2.60" fill="none" stroke="#2a5b96" stroke-width="1.0"/>
<circle cx="276.00" cy="134.32" r="2.60" fill="none" stroke="#2a5b96" stroke-width="1.0"/>
<circle cx="279.60" cy="134.32" r="2.60" fill="none" stroke="#2a5b96" stroke-width="1.0"/>
<circle cx="277.80" cy="135.00" r="2.60" fill="none" stroke="#2a5b96" stroke-width="1.0"/>
<circle cx="268.80" cy="135.15" r="2.60" fill="none" stroke="#2a5b96" stroke-width="1.0"/>
<circle cx="286.80" cy="135.15" r="2.60" fill="none" stroke="#2a5b96" stroke-width="1.0"/>
<circle cx="270.60" cy="135.82" r="2.60" fill="none" stroke="#2a5b96" stroke-width="1.0"/>
<circle cx="285.00" cy="135.82" r="2.60" fill="none" stroke="#2a5b96" stroke-width="1.0"/>
<circle cx="272.40" cy="136.49" r="2.60" fill="none" stroke="#2a5b96" stroke-width="1.0"/>
<circle cx="283.20" cy="136.49" r="2.60" fill="none" stroke="#2a5b96" stroke-width="1.0"/>
<circle cx="274.20" cy="137.16" r="2.60" fill="none" stroke="#2a5b96" stroke-width="1.0"/>
<circle cx="281.40" cy="137.16" r="2.60" fill="none" stroke="#2a5b96" stroke-width="1.0"/>
<circle cx="276.00" cy="137.83" r="2.60" fill="none" stroke="#2a5b96" stroke-width="1.0"/>
<circle cx="279.60" cy="137.83" r="2.60" fill="none" stroke="#2a5b96" stroke-width="1.0"/>
<circle cx="277.80" cy="138.50" r="2.60" fill="none" stroke="#2a5b96" stroke-width="1.0"/>
<circle cx="268.80" cy="138.65" r="2.60" fill="none" stroke="#2a5b96" stroke-width="1.0"/>
<circle cx="286.80" cy="138.65" r="2.60" fill="none" stroke="#2a5b96" stroke-width="1.0"/>
<circle cx="270.60" cy="139.32" r="2.60" fill="none" stroke="#2a5b96" stroke-width="1.0"/>
<circle cx="285.00" cy="139.32" r="2.60" fill="none" stroke="#2a5b96" stroke-width="1.0"/>
<circle cx="272.40" cy="139.99" r="2.60" fill="none" stroke="#2a5b96" stroke-width="1.0"/>
<circle cx="283.20" cy="139.99" r="2.60" fill="none" stroke="#2a5b96" stroke-width="1.0"/>
<circle cx="274.20" cy="140.66" r="2.60" fill="none" stroke="#2a5b96" stroke-width="1.0"/>
<circle cx="281.40" cy="140.66" r="2.60" fill="none" stroke="#2a5b96" stroke-width="1.0"/>
<circle cx="276.00" cy="141.33" r="2.60" fill="none" stroke="#2a5b96" stroke-width="1.0"/>
<circle cx="279.60" cy="141.33" r="2.60" fill="none" stroke="#2a5b96" stroke-width="1.0"/>
<circle cx="277.80" cy="142.00" r="2.60" fill="none" stroke="#2a5b96" stroke-width="1.0"/>
<circle cx="268.80" cy="142.15" r="2.60" fill="none" stroke="#2a5b96" stroke-width="1.0"/>
<circle cx="286.80" cy="142.15" r="2.60" fill="none" stroke="#2a5b96" stroke-width="1.0"/>
<circle cx="270.60" cy="142.82" r="2.60" fill="none" stroke="#2a5b96" stroke-width="1.0"/>
<circle cx="285.00" cy="142.82" r="2.60" fill="none" stroke="#a8385a" stroke-width="1.0"/>
<circle cx="272.40" cy="143.49" r="2.60" fill="none" stroke="#2a5b96" stroke-width="1.0"/>
<circle cx="283.20" cy="143.49" r="2.60" fill="none" stroke="#2a5b96" stroke-width="1.0"/>
<circle cx="274.20" cy="144.16" r="2.60" fill="none" stroke="#2a5b96" stroke-width="1.0"/>
<circle cx="281.40" cy="144.16" r="2.60" fill="none" stroke="#2a5b96" stroke-width="1.0"/>
<circle cx="276.00" cy="144.83" r="2.60" fill="none" stroke="#2a5b96" stroke-width="1.0"/>
<circle cx="279.60" cy="144.83" r="2.60" fill="none" stroke="#2a5b96" stroke-width="1.0"/>
<circle cx="277.80" cy="145.50" r="2.60" fill="none" stroke="#2a5b96" stroke-width="1.0"/>
<circle cx="268.80" cy="145.65" r="2.60" fill="none" stroke="#2a5b96" stroke-width="1.0"/>
<circle cx="286.80" cy="145.65" r="2.60" fill="none" stroke="#2a5b96" stroke-width="1.0"/>
<circle cx="270.60" cy="146.32" r="2.60" fill="none" stroke="#2a5b96" stroke-width="1.0"/>
<circle cx="285.00" cy="146.32" r="2.60" fill="none" stroke="#2a5b96" stroke-width="1.0"/>
<circle cx="272.40" cy="146.99" r="2.60" fill="none" stroke="#2a5b96" stroke-width="1.0"/>
<circle cx="283.20" cy="146.99" r="2.60" fill="none" stroke="#2a5b96" stroke-width="1.0"/>
<circle cx="274.20" cy="147.66" r="2.60" fill="none" stroke="#2a5b96" stroke-width="1.0"/>
<circle cx="281.40" cy="147.66" r="2.60" fill="none" stroke="#2a5b96" stroke-width="1.0"/>
<circle cx="276.00" cy="148.33" r="2.60" fill="none" stroke="#2a5b96" stroke-width="1.0"/>
<circle cx="279.60" cy="148.33" r="2.60" fill="none" stroke="#2a5b96" stroke-width="1.0"/>
<circle cx="277.80" cy="149.00" r="2.60" fill="none" stroke="#2a5b96" stroke-width="1.0"/>
<circle cx="268.80" cy="149.15" r="2.60" fill="none" stroke="#2a5b96" stroke-width="1.0"/>
<circle cx="286.80" cy="149.15" r="2.60" fill="none" stroke="#a8385a" stroke-width="1.0"/>
<circle cx="270.60" cy="149.82" r="2.60" fill="none" stroke="#2a5b96" stroke-width="1.0"/>
<circle cx="285.00" cy="149.82" r="2.60" fill="none" stroke="#a8385a" stroke-width="1.0"/>
<circle cx="272.40" cy="150.49" r="2.60" fill="none" stroke="#2a5b96" stroke-width="1.0"/>
<circle cx="283.20" cy="150.49" r="2.60" fill="none" stroke="#2a5b96" stroke-width="1.0"/>
<circle cx="274.20" cy="151.16" r="2.60" fill="none" stroke="#2a5b96" stroke-width="1.0"/>
<circle cx="281.40" cy="151.16" r="2.60" fill="none" stroke="#2a5b96" stroke-width="1.0"/>
<circle cx="276.00" cy="151.83" r="2.60" fill="none" stroke="#2a5b96" stroke-width="1.0"/>
<circle cx="279.60" cy="151.83" r="2.60" fill="none" stroke="#2a5b96" stroke-width="1.0"/>
<circle cx="277.80" cy="152.50" r="2.60" fill="none" stroke="#2a5b96" stroke-width="1.0"/>
<circle cx="268.80" cy="152.65" r="2.60" fill="none" stroke="#2a5b96" stroke-width="1.0"/>
<circle cx="286.80" cy="152.65" r="2.60" fill="none" stroke="#2a5b96" stroke-width="1.0"/>
<circle cx="270.60" cy="153.32" r="2.60" fill="none" stroke="#2a5b96" stroke-width="1.0"/>
<circle cx="285.00" cy="153.32" r="2.60" fill="none" stroke="#2a5b96" stroke-width="1.0"/>
<circle cx="272.40" cy="153.99" r="2.60" fill="none" stroke="#2a5b96" stroke-width="1.0"/>
<circle cx="283.20" cy="153.99" r="2.60" fill="none" stroke="#2a5b96" stroke-width="1.0"/>
<circle cx="274.20" cy="154.66" r="2.60" fill="none" stroke="#2a5b96" stroke-width="1.0"/>
<circle cx="281.40" cy="154.66" r="2.60" fill="none" stroke="#2a5b96" stroke-width="1.0"/>
<circle cx="276.00" cy="155.33" r="2.60" fill="none" stroke="#2a5b96" stroke-width="1.0"/>
<circle cx="279.60" cy="155.33" r="2.60" fill="none" stroke="#2a5b96" stroke-width="1.0"/>
<circle cx="277.80" cy="156.00" r="2.60" fill="none" stroke="#2a5b96" stroke-width="1.0"/>
<circle cx="270.60" cy="156.70" r="2.60" fill="none" stroke="#2a5b96" stroke-width="1.0"/>
<circle cx="285.00" cy="156.70" r="2.60" fill="none" stroke="#2a5b96" stroke-width="1.0"/>
<circle cx="273.00" cy="157.47" r="2.60" fill="none" stroke="#2a5b96" stroke-width="1.0"/>
<circle cx="282.60" cy="157.47" r="2.60" fill="none" stroke="#2a5b96" stroke-width="1.0"/>
<circle cx="275.40" cy="158.23" r="2.60" fill="none" stroke="#2a5b96" stroke-width="1.0"/>
<circle cx="280.20" cy="158.23" r="2.60" fill="none" stroke="#a8385a" stroke-width="1.0"/>
<circle cx="277.80" cy="159.00" r="2.60" fill="none" stroke="#2a5b96" stroke-width="1.0"/>
<circle cx="269.10" cy="159.57" r="2.60" fill="none" stroke="#2a5b96" stroke-width="1.0"/>
<circle cx="286.50" cy="159.57" r="2.60" fill="none" stroke="#a8385a" stroke-width="1.0"/>
<circle cx="272.00" cy="160.54" r="2.60" fill="none" stroke="#a8385a" stroke-width="1.0"/>
<circle cx="283.60" cy="160.54" r="2.60" fill="none" stroke="#2a5b96" stroke-width="1.0"/>
<circle cx="274.90" cy="161.52" r="2.60" fill="none" stroke="#2a5b96" stroke-width="1.0"/>
<circle cx="280.70" cy="161.52" r="2.60" fill="none" stroke="#2a5b96" stroke-width="1.0"/>
<circle cx="277.80" cy="162.50" r="2.60" fill="none" stroke="#2a5b96" stroke-width="1.0"/>
<circle cx="271.00" cy="163.59" r="2.60" fill="none" stroke="#2a5b96" stroke-width="1.0"/>
<circle cx="284.60" cy="163.59" r="2.60" fill="none" stroke="#2a5b96" stroke-width="1.0"/>
<circle cx="274.40" cy="164.54" r="2.60" fill="none" stroke="#2a5b96" stroke-width="1.0"/>
<circle cx="281.20" cy="164.54" r="2.60" fill="none" stroke="#2a5b96" stroke-width="1.0"/>
<circle cx="277.80" cy="165.50" r="2.60" fill="none" stroke="#2a5b96" stroke-width="1.0"/>
<circle cx="269.80" cy="166.60" r="2.60" fill="none" stroke="#2a5b96" stroke-width="1.0"/>
<circle cx="285.80" cy="166.60" r="2.60" fill="none" stroke="#2a5b96" stroke-width="1.0"/>
<circle cx="273.80" cy="167.55" r="2.60" fill="none" stroke="#2a5b96" stroke-width="1.0"/>
<circle cx="281.80" cy="167.55" r="2.60" fill="none" stroke="#2a5b96" stroke-width="1.0"/>
<circle cx="277.80" cy="168.50" r="2.60" fill="none" stroke="#2a5b96" stroke-width="1.0"/>
<circle cx="278.10" cy="109.20" r="2.60" fill="none" stroke="#285686" stroke-width="1.0"/>
<circle cx="278.10" cy="120.80" r="2.60" fill="none" stroke="#285686" stroke-width="1.0"/>
<circle cx="268.20" cy="172.50" r="2.60" fill="none" stroke="#285686" stroke-width="1.0"/>
<circle cx="273.20" cy="172.50" r="2.60" fill="none" stroke="#285686" stroke-width="1.0"/>
<circle cx="283.20" cy="172.50" r="2.60" fill="none" stroke="#285686" stroke-width="1.0"/>
<circle cx="288.20" cy="172.50" r="2.60" fill="none" stroke="#285686" stroke-width="1.0"/>
<circle cx="277.50" cy="179.30" r="2.60" fill="none" stroke="#285686" stroke-width="1.0"/>
<circle cx="281.00" cy="176.00" r="2.60" fill="none" stroke="#285686" stroke-width="1.0"/>
<circle cx="274.50" cy="176.00" r="2.60" fill="none" stroke="#285686" stroke-width="1.0"/>
<rect x="305.10" y="136.88" width="5.00" height="5.00" fill="none" stroke="#1e4079" stroke-width="1.15"/>
<rect x="323.10" y="136.88" width="5.00" height="5.00" fill="none" stroke="#6e2a64" stroke-width="1.15"/>
<rect x="306.90" y="137.40" width="5.00" height="5.00" fill="none" stroke="#6e2a64" stroke-width="1.15"/>
<rect x="321.30" y="137.40" width="5.00" height="5.00" fill="none" stroke="#1e4079" stroke-width="1.15"/>
<rect x="308.70" y="137.93" width="5.00" height="5.00" fill="none" stroke="#6e2a64" stroke-width="1.15"/>
<rect x="319.50" y="137.93" width="5.00" height="5.00" fill="none" stroke="#1e4079" stroke-width="1.15"/>
<rect x="310.50" y="138.45" width="5.00" height="5.00" fill="none" stroke="#1e4079" stroke-width="1.15"/>
<rect x="317.70" y="138.45" width="5.00" height="5.00" fill="none" stroke="#6e2a64" stroke-width="1.15"/>
<rect x="312.30" y="138.98" width="5.00" height="5.00" fill="none" stroke="#1e4079" stroke-width="1.15"/>
<rect x="315.90" y="138.98" width="5.00" height="5.00" fill="none" stroke="#1e4079" stroke-width="1.15"/>
<rect x="314.10" y="139.50" width="5.00" height="5.00" fill="none" stroke="#6e2a64" stroke-width="1.15"/>
<rect x="305.10" y="140.50" width="5.00" height="5.00" fill="none" stroke="#6e2a64" stroke-width="1.15"/>
<rect x="323.10" y="140.50" width="5.00" height="5.00" fill="none" stroke="#1e4079" stroke-width="1.15"/>
<rect x="306.90" y="141.10" width="5.00" height="5.00" fill="none" stroke="#1e4079" stroke-width="1.15"/>
<rect x="321.30" y="141.10" width="5.00" height="5.00" fill="none" stroke="#1e4079" stroke-width="1.15"/>
<rect x="308.70" y="141.70" width="5.00" height="5.00" fill="none" stroke="#1e4079" stroke-width="1.15"/>
<rect x="319.50" y="141.70" width="5.00" height="5.00" fill="none" stroke="#6e2a64" stroke-width="1.15"/>
<rect x="310.50" y="142.30" width="5.00" height="5.00" fill="none" stroke="#6e2a64" stroke-width="1.15"/>
<rect x="317.70" y="142.30" width="5.00" height="5.00" fill="none" stroke="#1e4079" stroke-width="1.15"/>
<rect x="312.30" y="142.90" width="5.00" height="5.00" fill="none" stroke="#1e4079" stroke-width="1.15"/>
<rect x="315.90" y="142.90" width="5.00" height="5.00" fill="none" stroke="#1e4079" stroke-width="1.15"/>
<rect x="314.10" y="143.50" width="5.00" height="5.00" fill="none" stroke="#1e4079" stroke-width="1.15"/>
<rect x="305.10" y="144.00" width="5.00" height="5.00" fill="none" stroke="#1e4079" stroke-width="1.15"/>
<rect x="323.10" y="144.00" width="5.00" height="5.00" fill="none" stroke="#1e4079" stroke-width="1.15"/>
<rect x="306.90" y="144.60" width="5.00" height="5.00" fill="none" stroke="#6e2a64" stroke-width="1.15"/>
<rect x="321.30" y="144.60" width="5.00" height="5.00" fill="none" stroke="#6e2a64" stroke-width="1.15"/>
<rect x="308.70" y="145.20" width="5.00" height="5.00" fill="none" stroke="#1e4079" stroke-width="1.15"/>
<rect x="319.50" y="145.20" width="5.00" height="5.00" fill="none" stroke="#1e4079" stroke-width="1.15"/>
<rect x="310.50" y="145.80" width="5.00" height="5.00" fill="none" stroke="#1e4079" stroke-width="1.15"/>
<rect x="317.70" y="145.80" width="5.00" height="5.00" fill="none" stroke="#6e2a64" stroke-width="1.15"/>
<rect x="312.30" y="146.40" width="5.00" height="5.00" fill="none" stroke="#1e4079" stroke-width="1.15"/>
<rect x="315.90" y="146.40" width="5.00" height="5.00" fill="none" stroke="#6e2a64" stroke-width="1.15"/>
<rect x="314.10" y="147.00" width="5.00" height="5.00" fill="none" stroke="#6e2a64" stroke-width="1.15"/>
<rect x="305.10" y="147.50" width="5.00" height="5.00" fill="none" stroke="#1e4079" stroke-width="1.15"/>
<rect x="323.10" y="147.50" width="5.00" height="5.00" fill="none" stroke="#6e2a64" stroke-width="1.15"/>
<rect x="306.90" y="148.10" width="5.00" height="5.00" fill="none" stroke="#1e4079" stroke-width="1.15"/>
<rect x="321.30" y="148.10" width="5.00" height="5.00" fill="none" stroke="#1e4079" stroke-width="1.15"/>
<rect x="308.70" y="148.70" width="5.00" height="5.00" fill="none" stroke="#6e2a64" stroke-width="1.15"/>
<rect x="319.50" y="148.70" width="5.00" height="5.00" fill="none" stroke="#1e4079" stroke-width="1.15"/>
<rect x="310.50" y="149.30" width="5.00" height="5.00" fill="none" stroke="#1e4079" stroke-width="1.15"/>
<rect x="317.70" y="149.30" width="5.00" height="5.00" fill="none" stroke="#6e2a64" stroke-width="1.15"/>
<rect x="312.30" y="149.90" width="5.00" height="5.00" fill="none" stroke="#1e4079" stroke-width="1.15"/>
<rect x="315.90" y="149.90" width="5.00" height="5.00" fill="none" stroke="#1e4079" stroke-width="1.15"/>
<rect x="314.10" y="150.50" width="5.00" height="5.00" fill="none" stroke="#6e2a64" stroke-width="1.15"/>
<rect x="305.10" y="151.00" width="5.00" height="5.00" fill="none" stroke="#1e4079" stroke-width="1.15"/>
<rect x="323.10" y="151.00" width="5.00" height="5.00" fill="none" stroke="#6e2a64" stroke-width="1.15"/>
<rect x="306.90" y="151.60" width="5.00" height="5.00" fill="none" stroke="#1e4079" stroke-width="1.15"/>
<rect x="321.30" y="151.60" width="5.00" height="5.00" fill="none" stroke="#1e4079" stroke-width="1.15"/>
<rect x="308.70" y="152.20" width="5.00" height="5.00" fill="none" stroke="#1e4079" stroke-width="1.15"/>
<rect x="319.50" y="152.20" width="5.00" height="5.00" fill="none" stroke="#6e2a64" stroke-width="1.15"/>
<rect x="310.50" y="152.80" width="5.00" height="5.00" fill="none" stroke="#6e2a64" stroke-width="1.15"/>
<rect x="317.70" y="152.80" width="5.00" height="5.00" fill="none" stroke="#1e4079" stroke-width="1.15"/>
<rect x="312.30" y="153.40" width="5.00" height="5.00" fill="none" stroke="#6e2a64" stroke-width="1.15"/>
<rect x="315.90" y="153.40" width="5.00" height="5.00" fill="none" stroke="#6e2a64" stroke-width="1.15"/>
<rect x="314.10" y="154.00" width="5.00" height="5.00" fill="none" stroke="#1e4079" stroke-width="1.15"/>
<rect x="305.10" y="154.50" width="5.00" height="5.00" fill="none" stroke="#1e4079" stroke-width="1.15"/>
<rect x="323.10" y="154.50" width="5.00" height="5.00" fill="none" stroke="#1e4079" stroke-width="1.15"/>
<rect x="306.90" y="155.10" width="5.00" height="5.00" fill="none" stroke="#1e4079" stroke-width="1.15"/>
<rect x="321.30" y="155.10" width="5.00" height="5.00" fill="none" stroke="#1e4079" stroke-width="1.15"/>
<rect x="308.70" y="155.70" width="5.00" height="5.00" fill="none" stroke="#6e2a64" stroke-width="1.15"/>
<rect x="319.50" y="155.70" width="5.00" height="5.00" fill="none" stroke="#1e4079" stroke-width="1.15"/>
<rect x="310.50" y="156.30" width="5.00" height="5.00" fill="none" stroke="#1e4079" stroke-width="1.15"/>
<rect x="317.70" y="156.30" width="5.00" height="5.00" fill="none" stroke="#1e4079" stroke-width="1.15"/>
<rect x="312.30" y="156.90" width="5.00" height="5.00" fill="none" stroke="#1e4079" stroke-width="1.15"/>
<rect x="315.90" y="156.90" width="5.00" height="5.00" fill="none" stroke="#6e2a64" stroke-width="1.15"/>
<rect x="314.10" y="157.50" width="5.00" height="5.00" fill="none" stroke="#1e4079" stroke-width="1.15"/>
<rect x="305.10" y="157.85" width="5.00" height="5.00" fill="none" stroke="#1e4079" stroke-width="1.15"/>
<rect x="323.10" y="157.85" width="5.00" height="5.00" fill="none" stroke="#1e4079" stroke-width="1.15"/>
<rect x="306.90" y="158.48" width="5.00" height="5.00" fill="none" stroke="#1e4079" stroke-width="1.15"/>
<rect x="321.30" y="158.48" width="5.00" height="5.00" fill="none" stroke="#1e4079" stroke-width="1.15"/>
<rect x="308.70" y="159.11" width="5.00" height="5.00" fill="none" stroke="#1e4079" stroke-width="1.15"/>
<rect x="319.50" y="159.11" width="5.00" height="5.00" fill="none" stroke="#1e4079" stroke-width="1.15"/>
<rect x="310.50" y="159.74" width="5.00" height="5.00" fill="none" stroke="#1e4079" stroke-width="1.15"/>
<rect x="317.70" y="159.74" width="5.00" height="5.00" fill="none" stroke="#1e4079" stroke-width="1.15"/>
<rect x="312.30" y="160.37" width="5.00" height="5.00" fill="none" stroke="#1e4079" stroke-width="1.15"/>
<rect x="315.90" y="160.37" width="5.00" height="5.00" fill="none" stroke="#1e4079" stroke-width="1.15"/>
<rect x="314.10" y="161.00" width="5.00" height="5.00" fill="none" stroke="#6e2a64" stroke-width="1.15"/>
<rect x="305.10" y="161.18" width="5.00" height="5.00" fill="none" stroke="#1e4079" stroke-width="1.15"/>
<rect x="323.10" y="161.18" width="5.00" height="5.00" fill="none" stroke="#1e4079" stroke-width="1.15"/>
<rect x="306.90" y="161.85" width="5.00" height="5.00" fill="none" stroke="#1e4079" stroke-width="1.15"/>
<rect x="321.30" y="161.85" width="5.00" height="5.00" fill="none" stroke="#1e4079" stroke-width="1.15"/>
<rect x="308.70" y="162.51" width="5.00" height="5.00" fill="none" stroke="#6e2a64" stroke-width="1.15"/>
<rect x="319.50" y="162.51" width="5.00" height="5.00" fill="none" stroke="#1e4079" stroke-width="1.15"/>
<rect x="310.50" y="163.17" width="5.00" height="5.00" fill="none" stroke="#1e4079" stroke-width="1.15"/>
<rect x="317.70" y="163.17" width="5.00" height="5.00" fill="none" stroke="#1e4079" stroke-width="1.15"/>
<rect x="312.30" y="163.84" width="5.00" height="5.00" fill="none" stroke="#1e4079" stroke-width="1.15"/>
<rect x="315.90" y="163.84" width="5.00" height="5.00" fill="none" stroke="#1e4079" stroke-width="1.15"/>
<rect x="314.10" y="164.50" width="5.00" height="5.00" fill="none" stroke="#1e4079" stroke-width="1.15"/>
<rect x="306.90" y="164.62" width="5.00" height="5.00" fill="none" stroke="#1e4079" stroke-width="1.15"/>
<rect x="321.30" y="164.62" width="5.00" height="5.00" fill="none" stroke="#6e2a64" stroke-width="1.15"/>
<rect x="308.70" y="165.34" width="5.00" height="5.00" fill="none" stroke="#1e4079" stroke-width="1.15"/>
<rect x="319.50" y="165.34" width="5.00" height="5.00" fill="none" stroke="#1e4079" stroke-width="1.15"/>
<rect x="310.50" y="166.06" width="5.00" height="5.00" fill="none" stroke="#1e4079" stroke-width="1.15"/>
<rect x="317.70" y="166.06" width="5.00" height="5.00" fill="none" stroke="#1e4079" stroke-width="1.15"/>
<rect x="312.30" y="166.78" width="5.00" height="5.00" fill="none" stroke="#1e4079" stroke-width="1.15"/>
<rect x="315.90" y="166.78" width="5.00" height="5.00" fill="none" stroke="#1e4079" stroke-width="1.15"/>
<rect x="314.10" y="167.50" width="5.00" height="5.00" fill="none" stroke="#6e2a64" stroke-width="1.15"/>
<rect x="310.50" y="168.00" width="5.00" height="5.00" fill="none" stroke="#1e4079" stroke-width="1.15"/>
<rect x="317.70" y="168.00" width="5.00" height="5.00" fill="none" stroke="#6e2a64" stroke-width="1.15"/>
<rect x="312.30" y="169.00" width="5.00" height="5.00" fill="none" stroke="#1e4079" stroke-width="1.15"/>
<rect x="315.90" y="169.00" width="5.00" height="5.00" fill="none" stroke="#6e2a64" stroke-width="1.15"/>
<rect x="314.10" y="170.00" width="5.00" height="5.00" fill="none" stroke="#1e4079" stroke-width="1.15"/>
<rect x="313.70" y="117.60" width="5.20" height="5.20" fill="none" stroke="#4a6a8a" stroke-width="1.0"/>
<rect x="309.60" y="129.10" width="5.20" height="5.20" fill="none" stroke="#b4415a" stroke-width="1.0"/>
<rect x="317.80" y="129.10" width="5.20" height="5.20" fill="none" stroke="#b4415a" stroke-width="1.0"/>
<rect x="304.20" y="133.90" width="5.20" height="5.20" fill="none" stroke="#b4415a" stroke-width="1.0"/>
<rect x="323.90" y="133.90" width="5.20" height="5.20" fill="none" stroke="#b4415a" stroke-width="1.0"/>
<rect x="305.60" y="173.90" width="5.20" height="5.20" fill="none" stroke="#4a6a8a" stroke-width="1.0"/>
<rect x="314.40" y="179.30" width="5.20" height="5.20" fill="none" stroke="#4a6a8a" stroke-width="1.0"/>
<rect x="322.50" y="175.90" width="5.20" height="5.20" fill="none" stroke="#4a6a8a" stroke-width="1.0"/>
<line x1="266.2" y1="149.5" x2="289.6" y2="149.5" stroke="#111" stroke-width="0.9"/>
<line x1="277.8" y1="133" x2="277.8" y2="165" stroke="#111" stroke-width="0.8"/>
<line x1="304.0" y1="154.8" x2="329.8" y2="154.8" stroke="#111" stroke-width="0.9"/>
<line x1="316.5" y1="143" x2="316.5" y2="167" stroke="#111" stroke-width="0.8"/>
<line x1="278" y1="108.7" x2="315.8" y2="108.7" stroke="#777" stroke-width="1.4"/>
<text x="295.6" y="109.3" font-size="9" text-anchor="middle" fill="#111">*</text>
<line x1="67.7" y1="298.45000000000005" x2="229.5" y2="298.45000000000005" stroke="#2a2a2a" stroke-width="1.1" stroke-dasharray="1.2 1.45"/>
<line x1="67.7" y1="328.225" x2="229.5" y2="328.225" stroke="#2a2a2a" stroke-width="1.1" stroke-dasharray="1.2 1.45"/>
<path d="M86.50,259.54 L127.20,275.82 L168.20,266.29 L209.20,266.29" fill="none" stroke="#505050" stroke-width="0.75" stroke-dasharray="1 1.1"/>
<path d="M86.50,268.68 L127.20,283.56 L168.20,272.25 L209.20,274.83" fill="none" stroke="#505050" stroke-width="0.75" stroke-dasharray="1 1.1"/>
<path d="M86.50,275.82 L127.20,298.45 L168.20,286.94 L209.20,288.53" fill="none" stroke="#505050" stroke-width="0.75" stroke-dasharray="1 1.1"/>
<path d="M86.50,289.91 L127.20,292.89 L168.20,300.44 L209.20,285.15" fill="none" stroke="#505050" stroke-width="0.75" stroke-dasharray="1 1.1"/>
<path d="M86.50,293.88 L127.20,289.91 L168.20,303.41 L209.20,309.37" fill="none" stroke="#505050" stroke-width="0.75" stroke-dasharray="1 1.1"/>
<path d="M86.50,297.46 L127.20,318.30 L168.20,306.39 L209.20,334.18" fill="none" stroke="#505050" stroke-width="0.75" stroke-dasharray="1 1.1"/>
<path d="M86.50,300.44 L127.20,310.36 L168.20,338.15" fill="none" stroke="#505050" stroke-width="0.75" stroke-dasharray="1 1.1"/>
<path d="M86.50,302.42 L127.20,296.07 L168.20,290.51 L209.20,294.48" fill="none" stroke="#505050" stroke-width="0.75" stroke-dasharray="1 1.1"/>
<path d="M86.50,309.37 L127.20,300.44 L168.20,314.33 L209.20,301.43" fill="none" stroke="#505050" stroke-width="0.75" stroke-dasharray="1 1.1"/>
<path d="M86.50,312.74 L127.20,304.41 L168.20,329.02 L209.20,298.45" fill="none" stroke="#505050" stroke-width="0.75" stroke-dasharray="1 1.1"/>
<path d="M86.50,307.38 L127.20,297.46 L168.20,289.52 L209.20,291.50" fill="none" stroke="#505050" stroke-width="0.75" stroke-dasharray="1 1.1"/>
<path d="M86.50,323.06 L127.20,325.25" fill="none" stroke="#505050" stroke-width="0.75" stroke-dasharray="1 1.1"/>
<path d="M86.50,331.60 L127.20,302.42 L168.20,319.69 L209.20,314.33" fill="none" stroke="#505050" stroke-width="0.75" stroke-dasharray="1 1.1"/>
<path d="M86.50,316.32 L127.20,338.94 L168.20,329.02" fill="none" stroke="#505050" stroke-width="0.75" stroke-dasharray="1 1.1"/>
<path d="M86.50,298.45 L127.20,310.36 L168.20,303.41 L209.20,286.54" fill="none" stroke="#505050" stroke-width="0.75" stroke-dasharray="1 1.1"/>
<rect x="84.25" y="257.29" width="4.50" height="4.50" fill="rgba(255,255,255,0.55)" stroke="#b4415a" stroke-width="1.0"/>
<rect x="124.95" y="273.57" width="4.50" height="4.50" fill="rgba(255,255,255,0.55)" stroke="#b4415a" stroke-width="1.0"/>
<rect x="165.95" y="264.04" width="4.50" height="4.50" fill="rgba(255,255,255,0.55)" stroke="#b4415a" stroke-width="1.0"/>
<rect x="206.95" y="264.04" width="4.50" height="4.50" fill="rgba(255,255,255,0.55)" stroke="#b4415a" stroke-width="1.0"/>
<circle cx="86.50" cy="268.68" r="2.25" fill="rgba(255,255,255,0.55)" stroke="#b4415a" stroke-width="1.0"/>
<circle cx="127.20" cy="283.56" r="2.25" fill="rgba(255,255,255,0.55)" stroke="#b4415a" stroke-width="1.0"/>
<circle cx="168.20" cy="272.25" r="2.25" fill="rgba(255,255,255,0.55)" stroke="#b4415a" stroke-width="1.0"/>
<circle cx="209.20" cy="274.83" r="2.25" fill="rgba(255,255,255,0.55)" stroke="#b4415a" stroke-width="1.0"/>
<rect x="84.25" y="273.57" width="4.50" height="4.50" fill="rgba(255,255,255,0.55)" stroke="#285686" stroke-width="1.0"/>
<rect x="124.95" y="296.20" width="4.50" height="4.50" fill="rgba(255,255,255,0.55)" stroke="#285686" stroke-width="1.0"/>
<rect x="165.95" y="284.69" width="4.50" height="4.50" fill="rgba(255,255,255,0.55)" stroke="#285686" stroke-width="1.0"/>
<rect x="206.95" y="286.28" width="4.50" height="4.50" fill="rgba(255,255,255,0.55)" stroke="#285686" stroke-width="1.0"/>
<rect x="84.25" y="287.66" width="4.50" height="4.50" fill="rgba(255,255,255,0.55)" stroke="#b4415a" stroke-width="1.0"/>
<rect x="124.95" y="290.64" width="4.50" height="4.50" fill="rgba(255,255,255,0.55)" stroke="#b4415a" stroke-width="1.0"/>
<rect x="165.95" y="298.19" width="4.50" height="4.50" fill="rgba(255,255,255,0.55)" stroke="#b4415a" stroke-width="1.0"/>
<rect x="206.95" y="282.90" width="4.50" height="4.50" fill="rgba(255,255,255,0.55)" stroke="#b4415a" stroke-width="1.0"/>
<rect x="84.25" y="291.63" width="4.50" height="4.50" fill="rgba(255,255,255,0.55)" stroke="#7a3a5e" stroke-width="1.0"/>
<rect x="124.95" y="287.66" width="4.50" height="4.50" fill="rgba(255,255,255,0.55)" stroke="#7a3a5e" stroke-width="1.0"/>
<rect x="165.95" y="301.16" width="4.50" height="4.50" fill="rgba(255,255,255,0.55)" stroke="#7a3a5e" stroke-width="1.0"/>
<rect x="206.95" y="307.12" width="4.50" height="4.50" fill="rgba(255,255,255,0.55)" stroke="#7a3a5e" stroke-width="1.0"/>
<rect x="84.25" y="295.21" width="4.50" height="4.50" fill="rgba(255,255,255,0.55)" stroke="#b4415a" stroke-width="1.0"/>
<rect x="124.95" y="316.05" width="4.50" height="4.50" fill="rgba(255,255,255,0.55)" stroke="#b4415a" stroke-width="1.0"/>
<rect x="165.95" y="304.14" width="4.50" height="4.50" fill="rgba(255,255,255,0.55)" stroke="#b4415a" stroke-width="1.0"/>
<rect x="206.95" y="331.93" width="4.50" height="4.50" fill="rgba(255,255,255,0.55)" stroke="#b4415a" stroke-width="1.0"/>
<rect x="84.25" y="298.19" width="4.50" height="4.50" fill="rgba(255,255,255,0.55)" stroke="#7a3a5e" stroke-width="1.0"/>
<rect x="124.95" y="308.11" width="4.50" height="4.50" fill="rgba(255,255,255,0.55)" stroke="#7a3a5e" stroke-width="1.0"/>
<rect x="165.95" y="335.90" width="4.50" height="4.50" fill="rgba(255,255,255,0.55)" stroke="#7a3a5e" stroke-width="1.0"/>
<rect x="84.25" y="300.17" width="4.50" height="4.50" fill="rgba(255,255,255,0.55)" stroke="#7a3a5e" stroke-width="1.0"/>
<rect x="124.95" y="293.82" width="4.50" height="4.50" fill="rgba(255,255,255,0.55)" stroke="#7a3a5e" stroke-width="1.0"/>
<rect x="165.95" y="288.26" width="4.50" height="4.50" fill="rgba(255,255,255,0.55)" stroke="#7a3a5e" stroke-width="1.0"/>
<rect x="206.95" y="292.23" width="4.50" height="4.50" fill="rgba(255,255,255,0.55)" stroke="#7a3a5e" stroke-width="1.0"/>
<rect x="84.25" y="307.12" width="4.50" height="4.50" fill="rgba(255,255,255,0.55)" stroke="#285686" stroke-width="1.0"/>
<rect x="124.95" y="298.19" width="4.50" height="4.50" fill="rgba(255,255,255,0.55)" stroke="#285686" stroke-width="1.0"/>
<rect x="165.95" y="312.08" width="4.50" height="4.50" fill="rgba(255,255,255,0.55)" stroke="#285686" stroke-width="1.0"/>
<rect x="206.95" y="299.18" width="4.50" height="4.50" fill="rgba(255,255,255,0.55)" stroke="#285686" stroke-width="1.0"/>
<rect x="84.25" y="310.49" width="4.50" height="4.50" fill="rgba(255,255,255,0.55)" stroke="#285686" stroke-width="1.0"/>
<rect x="124.95" y="302.16" width="4.50" height="4.50" fill="rgba(255,255,255,0.55)" stroke="#285686" stroke-width="1.0"/>
<rect x="165.95" y="326.77" width="4.50" height="4.50" fill="rgba(255,255,255,0.55)" stroke="#285686" stroke-width="1.0"/>
<rect x="206.95" y="296.20" width="4.50" height="4.50" fill="rgba(255,255,255,0.55)" stroke="#285686" stroke-width="1.0"/>
<rect x="84.25" y="305.13" width="4.50" height="4.50" fill="rgba(255,255,255,0.55)" stroke="#285686" stroke-width="1.0"/>
<rect x="124.95" y="295.21" width="4.50" height="4.50" fill="rgba(255,255,255,0.55)" stroke="#285686" stroke-width="1.0"/>
<rect x="165.95" y="287.27" width="4.50" height="4.50" fill="rgba(255,255,255,0.55)" stroke="#285686" stroke-width="1.0"/>
<rect x="206.95" y="289.25" width="4.50" height="4.50" fill="rgba(255,255,255,0.55)" stroke="#285686" stroke-width="1.0"/>
<circle cx="86.50" cy="323.06" r="2.25" fill="rgba(255,255,255,0.55)" stroke="#b4415a" stroke-width="1.0"/>
<circle cx="127.20" cy="325.25" r="2.25" fill="rgba(255,255,255,0.55)" stroke="#b4415a" stroke-width="1.0"/>
<rect x="84.25" y="329.35" width="4.50" height="4.50" fill="rgba(255,255,255,0.55)" stroke="#285686" stroke-width="1.0"/>
<rect x="124.95" y="300.17" width="4.50" height="4.50" fill="rgba(255,255,255,0.55)" stroke="#285686" stroke-width="1.0"/>
<rect x="165.95" y="317.44" width="4.50" height="4.50" fill="rgba(255,255,255,0.55)" stroke="#285686" stroke-width="1.0"/>
<rect x="206.95" y="312.08" width="4.50" height="4.50" fill="rgba(255,255,255,0.55)" stroke="#285686" stroke-width="1.0"/>
<circle cx="86.50" cy="316.32" r="2.25" fill="rgba(255,255,255,0.55)" stroke="#285686" stroke-width="1.0"/>
<circle cx="127.20" cy="338.94" r="2.25" fill="rgba(255,255,255,0.55)" stroke="#285686" stroke-width="1.0"/>
<circle cx="168.20" cy="329.02" r="2.25" fill="rgba(255,255,255,0.55)" stroke="#285686" stroke-width="1.0"/>
<circle cx="86.50" cy="298.45" r="2.25" fill="rgba(255,255,255,0.55)" stroke="#b4415a" stroke-width="1.0"/>
<circle cx="127.20" cy="310.36" r="2.25" fill="rgba(255,255,255,0.55)" stroke="#b4415a" stroke-width="1.0"/>
<circle cx="168.20" cy="303.41" r="2.25" fill="rgba(255,255,255,0.55)" stroke="#b4415a" stroke-width="1.0"/>
<circle cx="209.20" cy="286.54" r="2.25" fill="rgba(255,255,255,0.55)" stroke="#b4415a" stroke-width="1.0"/>
<line x1="66.0" y1="278.6" x2="229.5" y2="278.6" stroke="#1a1a1a" stroke-width="1.6"/>
<path d="M86.5,297.85 L127.2,296.86 L168.2,287.53" fill="none" stroke="#1a1a1a" stroke-width="1.4"/>
<line x1="86.5" y1="278.6" x2="86.5" y2="281.6" stroke="#1a1a1a" stroke-width="1"/>
<line x1="127.2" y1="278.6" x2="127.2" y2="281.6" stroke="#1a1a1a" stroke-width="1"/>
<line x1="168.2" y1="278.6" x2="168.2" y2="281.6" stroke="#1a1a1a" stroke-width="1"/>
<line x1="209.2" y1="278.6" x2="209.2" y2="281.6" stroke="#1a1a1a" stroke-width="1"/>
<line x1="288.0" y1="282.1" x2="450.5" y2="282.1" stroke="#2a2a2a" stroke-width="1.1" stroke-dasharray="1.2 1.45"/>
<line x1="288.0" y1="298.6" x2="450.5" y2="298.6" stroke="#2a2a2a" stroke-width="1.1" stroke-dasharray="1.2 1.45"/>
<path d="M306.70,265.82 L347.60,264.06 L388.90,262.30 L430.00,260.65" fill="none" stroke="#505050" stroke-width="0.75" stroke-dasharray="1 1.1"/>
<path d="M306.70,272.75 L347.60,283.64 L388.90,273.30 L430.00,273.30" fill="none" stroke="#505050" stroke-width="0.75" stroke-dasharray="1 1.1"/>
<path d="M306.70,276.05 L347.60,286.50 L388.90,276.60 L430.00,276.60" fill="none" stroke="#505050" stroke-width="0.75" stroke-dasharray="1 1.1"/>
<path d="M306.70,279.46 L347.60,288.70 L388.90,279.90 L430.00,280.45" fill="none" stroke="#505050" stroke-width="0.75" stroke-dasharray="1 1.1"/>
<path d="M306.70,282.98 L347.60,291.45 L388.90,283.20 L430.00,284.30" fill="none" stroke="#505050" stroke-width="0.75" stroke-dasharray="1 1.1"/>
<path d="M306.70,286.50 L347.60,295.30 L388.90,287.05 L430.00,288.15" fill="none" stroke="#505050" stroke-width="0.75" stroke-dasharray="1 1.1"/>
<path d="M306.70,290.02 L347.60,293.10 L388.90,290.90 L430.00,292.00" fill="none" stroke="#505050" stroke-width="0.75" stroke-dasharray="1 1.1"/>
<path d="M306.70,293.10 L347.60,299.37 L388.90,294.20" fill="none" stroke="#505050" stroke-width="0.75" stroke-dasharray="1 1.1"/>
<path d="M306.70,296.95 L347.60,282.10 L388.90,298.05 L430.00,305.20" fill="none" stroke="#505050" stroke-width="0.75" stroke-dasharray="1 1.1"/>
<path d="M306.70,299.70 L347.60,303.00 L388.90,301.90 L430.00,308.50" fill="none" stroke="#505050" stroke-width="0.75" stroke-dasharray="1 1.1"/>
<path d="M306.70,308.50 L347.60,279.13 L388.90,305.20 L430.00,312.35" fill="none" stroke="#505050" stroke-width="0.75" stroke-dasharray="1 1.1"/>
<path d="M306.70,310.70 L347.60,307.40 L388.90,308.50 L430.00,316.20" fill="none" stroke="#505050" stroke-width="0.75" stroke-dasharray="1 1.1"/>
<path d="M306.70,314.66 L347.60,311.80 L388.90,311.80 L430.00,319.50" fill="none" stroke="#505050" stroke-width="0.75" stroke-dasharray="1 1.1"/>
<path d="M306.70,318.40 L347.60,317.30 L388.90,315.10 L430.00,321.70" fill="none" stroke="#505050" stroke-width="0.75" stroke-dasharray="1 1.1"/>
<path d="M306.70,311.80 L347.60,334.90 L388.90,324.45" fill="none" stroke="#505050" stroke-width="0.75" stroke-dasharray="1 1.1"/>
<circle cx="306.70" cy="265.82" r="2.25" fill="rgba(255,255,255,0.55)" stroke="#b4415a" stroke-width="1.0"/>
<circle cx="347.60" cy="264.06" r="2.25" fill="rgba(255,255,255,0.55)" stroke="#b4415a" stroke-width="1.0"/>
<circle cx="388.90" cy="262.30" r="2.25" fill="rgba(255,255,255,0.55)" stroke="#b4415a" stroke-width="1.0"/>
<circle cx="430.00" cy="260.65" r="2.25" fill="rgba(255,255,255,0.55)" stroke="#b4415a" stroke-width="1.0"/>
<rect x="304.45" y="270.50" width="4.50" height="4.50" fill="rgba(255,255,255,0.55)" stroke="#b4415a" stroke-width="1.0"/>
<rect x="345.35" y="281.39" width="4.50" height="4.50" fill="rgba(255,255,255,0.55)" stroke="#b4415a" stroke-width="1.0"/>
<rect x="386.65" y="271.05" width="4.50" height="4.50" fill="rgba(255,255,255,0.55)" stroke="#b4415a" stroke-width="1.0"/>
<rect x="427.75" y="271.05" width="4.50" height="4.50" fill="rgba(255,255,255,0.55)" stroke="#b4415a" stroke-width="1.0"/>
<rect x="304.45" y="273.80" width="4.50" height="4.50" fill="rgba(255,255,255,0.55)" stroke="#b4415a" stroke-width="1.0"/>
<rect x="345.35" y="284.25" width="4.50" height="4.50" fill="rgba(255,255,255,0.55)" stroke="#b4415a" stroke-width="1.0"/>
<rect x="386.65" y="274.35" width="4.50" height="4.50" fill="rgba(255,255,255,0.55)" stroke="#b4415a" stroke-width="1.0"/>
<rect x="427.75" y="274.35" width="4.50" height="4.50" fill="rgba(255,255,255,0.55)" stroke="#b4415a" stroke-width="1.0"/>
<circle cx="306.70" cy="279.46" r="2.25" fill="rgba(255,255,255,0.55)" stroke="#b4415a" stroke-width="1.0"/>
<circle cx="347.60" cy="288.70" r="2.25" fill="rgba(255,255,255,0.55)" stroke="#b4415a" stroke-width="1.0"/>
<circle cx="388.90" cy="279.90" r="2.25" fill="rgba(255,255,255,0.55)" stroke="#b4415a" stroke-width="1.0"/>
<circle cx="430.00" cy="280.45" r="2.25" fill="rgba(255,255,255,0.55)" stroke="#b4415a" stroke-width="1.0"/>
<rect x="304.45" y="280.73" width="4.50" height="4.50" fill="rgba(255,255,255,0.55)" stroke="#7a3a5e" stroke-width="1.0"/>
<rect x="345.35" y="289.20" width="4.50" height="4.50" fill="rgba(255,255,255,0.55)" stroke="#7a3a5e" stroke-width="1.0"/>
<rect x="386.65" y="280.95" width="4.50" height="4.50" fill="rgba(255,255,255,0.55)" stroke="#7a3a5e" stroke-width="1.0"/>
<rect x="427.75" y="282.05" width="4.50" height="4.50" fill="rgba(255,255,255,0.55)" stroke="#7a3a5e" stroke-width="1.0"/>
<rect x="304.45" y="284.25" width="4.50" height="4.50" fill="rgba(255,255,255,0.55)" stroke="#b4415a" stroke-width="1.0"/>
<rect x="345.35" y="293.05" width="4.50" height="4.50" fill="rgba(255,255,255,0.55)" stroke="#b4415a" stroke-width="1.0"/>
<rect x="386.65" y="284.80" width="4.50" height="4.50" fill="rgba(255,255,255,0.55)" stroke="#b4415a" stroke-width="1.0"/>
<rect x="427.75" y="285.90" width="4.50" height="4.50" fill="rgba(255,255,255,0.55)" stroke="#b4415a" stroke-width="1.0"/>
<rect x="304.45" y="287.77" width="4.50" height="4.50" fill="rgba(255,255,255,0.55)" stroke="#7a3a5e" stroke-width="1.0"/>
<rect x="345.35" y="290.85" width="4.50" height="4.50" fill="rgba(255,255,255,0.55)" stroke="#7a3a5e" stroke-width="1.0"/>
<rect x="386.65" y="288.65" width="4.50" height="4.50" fill="rgba(255,255,255,0.55)" stroke="#7a3a5e" stroke-width="1.0"/>
<rect x="427.75" y="289.75" width="4.50" height="4.50" fill="rgba(255,255,255,0.55)" stroke="#7a3a5e" stroke-width="1.0"/>
<rect x="304.45" y="290.85" width="4.50" height="4.50" fill="rgba(255,255,255,0.55)" stroke="#b4415a" stroke-width="1.0"/>
<rect x="345.35" y="297.12" width="4.50" height="4.50" fill="rgba(255,255,255,0.55)" stroke="#b4415a" stroke-width="1.0"/>
<rect x="386.65" y="291.95" width="4.50" height="4.50" fill="rgba(255,255,255,0.55)" stroke="#b4415a" stroke-width="1.0"/>
<circle cx="306.70" cy="296.95" r="2.25" fill="rgba(255,255,255,0.55)" stroke="#b4415a" stroke-width="1.0"/>
<circle cx="347.60" cy="282.10" r="2.25" fill="rgba(255,255,255,0.55)" stroke="#b4415a" stroke-width="1.0"/>
<circle cx="388.90" cy="298.05" r="2.25" fill="rgba(255,255,255,0.55)" stroke="#b4415a" stroke-width="1.0"/>
<circle cx="430.00" cy="305.20" r="2.25" fill="rgba(255,255,255,0.55)" stroke="#b4415a" stroke-width="1.0"/>
<rect x="304.45" y="297.45" width="4.50" height="4.50" fill="rgba(255,255,255,0.55)" stroke="#b4415a" stroke-width="1.0"/>
<rect x="345.35" y="300.75" width="4.50" height="4.50" fill="rgba(255,255,255,0.55)" stroke="#b4415a" stroke-width="1.0"/>
<rect x="386.65" y="299.65" width="4.50" height="4.50" fill="rgba(255,255,255,0.55)" stroke="#b4415a" stroke-width="1.0"/>
<rect x="427.75" y="306.25" width="4.50" height="4.50" fill="rgba(255,255,255,0.55)" stroke="#b4415a" stroke-width="1.0"/>
<circle cx="306.70" cy="308.50" r="2.25" fill="rgba(255,255,255,0.55)" stroke="#285686" stroke-width="1.0"/>
<circle cx="347.60" cy="279.13" r="2.25" fill="rgba(255,255,255,0.55)" stroke="#285686" stroke-width="1.0"/>
<circle cx="388.90" cy="305.20" r="2.25" fill="rgba(255,255,255,0.55)" stroke="#285686" stroke-width="1.0"/>
<circle cx="430.00" cy="312.35" r="2.25" fill="rgba(255,255,255,0.55)" stroke="#285686" stroke-width="1.0"/>
<rect x="304.45" y="308.45" width="4.50" height="4.50" fill="rgba(255,255,255,0.55)" stroke="#285686" stroke-width="1.0"/>
<rect x="345.35" y="305.15" width="4.50" height="4.50" fill="rgba(255,255,255,0.55)" stroke="#285686" stroke-width="1.0"/>
<rect x="386.65" y="306.25" width="4.50" height="4.50" fill="rgba(255,255,255,0.55)" stroke="#285686" stroke-width="1.0"/>
<rect x="427.75" y="313.95" width="4.50" height="4.50" fill="rgba(255,255,255,0.55)" stroke="#285686" stroke-width="1.0"/>
<rect x="304.45" y="312.41" width="4.50" height="4.50" fill="rgba(255,255,255,0.55)" stroke="#285686" stroke-width="1.0"/>
<rect x="345.35" y="309.55" width="4.50" height="4.50" fill="rgba(255,255,255,0.55)" stroke="#285686" stroke-width="1.0"/>
<rect x="386.65" y="309.55" width="4.50" height="4.50" fill="rgba(255,255,255,0.55)" stroke="#285686" stroke-width="1.0"/>
<rect x="427.75" y="317.25" width="4.50" height="4.50" fill="rgba(255,255,255,0.55)" stroke="#285686" stroke-width="1.0"/>
<rect x="304.45" y="316.15" width="4.50" height="4.50" fill="rgba(255,255,255,0.55)" stroke="#285686" stroke-width="1.0"/>
<rect x="345.35" y="315.05" width="4.50" height="4.50" fill="rgba(255,255,255,0.55)" stroke="#285686" stroke-width="1.0"/>
<rect x="386.65" y="312.85" width="4.50" height="4.50" fill="rgba(255,255,255,0.55)" stroke="#285686" stroke-width="1.0"/>
<rect x="427.75" y="319.45" width="4.50" height="4.50" fill="rgba(255,255,255,0.55)" stroke="#285686" stroke-width="1.0"/>
<circle cx="306.70" cy="311.80" r="2.25" fill="rgba(255,255,255,0.55)" stroke="#285686" stroke-width="1.0"/>
<circle cx="347.60" cy="334.90" r="2.25" fill="rgba(255,255,255,0.55)" stroke="#285686" stroke-width="1.0"/>
<circle cx="388.90" cy="324.45" r="2.25" fill="rgba(255,255,255,0.55)" stroke="#285686" stroke-width="1.0"/>
<line x1="286.4" y1="271.1" x2="452" y2="271.1" stroke="#1a1a1a" stroke-width="1.6"/>
<line x1="306.7" y1="271.1" x2="306.7" y2="274.1" stroke="#1a1a1a" stroke-width="1"/>
<line x1="347.6" y1="271.1" x2="347.6" y2="274.1" stroke="#1a1a1a" stroke-width="1"/>
<line x1="388.9" y1="271.1" x2="388.9" y2="274.1" stroke="#1a1a1a" stroke-width="1"/>
<line x1="430.0" y1="271.1" x2="430.0" y2="274.1" stroke="#1a1a1a" stroke-width="1"/>
<line x1="197.4" y1="439.8" x2="369.5" y2="439.8" stroke="#2a2a2a" stroke-width="1.1" stroke-dasharray="1.2 1.45"/>
<line x1="197.4" y1="451.35" x2="369.5" y2="451.35" stroke="#2a2a2a" stroke-width="1.1" stroke-dasharray="1.2 1.45"/>
<line x1="197.4" y1="468.675" x2="369.5" y2="468.675" stroke="#2a2a2a" stroke-width="1.1" stroke-dasharray="1.2 1.45"/>
<path d="M240.00,414.00 L243.10,419.60 L236.90,419.60 Z" fill="#952a4a" stroke="#111" stroke-width="0.9" stroke-linejoin="miter"/>
<path d="M231.50,427.50 L234.60,433.10 L228.40,433.10 Z" fill="#952a4a" stroke="#111" stroke-width="0.9" stroke-linejoin="miter"/>
<path d="M240.30,427.50 L243.40,433.10 L237.20,433.10 Z" fill="#952a4a" stroke="#111" stroke-width="0.9" stroke-linejoin="miter"/>
<path d="M248.70,427.50 L251.80,433.10 L245.60,433.10 Z" fill="#952a4a" stroke="#111" stroke-width="0.9" stroke-linejoin="miter"/>
<path d="M244.30,434.20 L247.40,439.80 L241.20,439.80 Z" fill="#952a4a" stroke="#111" stroke-width="0.9" stroke-linejoin="miter"/>
<path d="M235.70,440.30 L238.80,445.90 L232.60,445.90 Z" fill="#952a4a" stroke="#111" stroke-width="0.9" stroke-linejoin="miter"/>
<path d="M214.40,444.50 L217.50,450.10 L211.30,450.10 Z" fill="#952a4a" stroke="#111" stroke-width="0.9" stroke-linejoin="miter"/>
<path d="M221.80,446.10 L224.90,451.70 L218.70,451.70 Z" fill="#952a4a" stroke="#111" stroke-width="0.9" stroke-linejoin="miter"/>
<path d="M229.20,447.20 L232.30,452.80 L226.10,452.80 Z" fill="#952a4a" stroke="#111" stroke-width="0.9" stroke-linejoin="miter"/>
<path d="M236.60,447.80 L239.70,453.40 L233.50,453.40 Z" fill="#952a4a" stroke="#111" stroke-width="0.9" stroke-linejoin="miter"/>
<path d="M244.00,448.90 L247.10,454.50 L240.90,454.50 Z" fill="#952a4a" stroke="#111" stroke-width="0.9" stroke-linejoin="miter"/>
<path d="M251.40,447.80 L254.50,453.40 L248.30,453.40 Z" fill="#952a4a" stroke="#111" stroke-width="0.9" stroke-linejoin="miter"/>
<path d="M258.60,446.70 L261.70,452.30 L255.50,452.30 Z" fill="#952a4a" stroke="#111" stroke-width="0.9" stroke-linejoin="miter"/>
<path d="M265.80,445.60 L268.90,451.20 L262.70,451.20 Z" fill="#952a4a" stroke="#111" stroke-width="0.9" stroke-linejoin="miter"/>
<path d="M216.30,450.98 L219.40,456.58 L213.20,456.58 Z" fill="#952a4a" stroke="#111" stroke-width="0.9" stroke-linejoin="miter"/>
<path d="M264.30,450.98 L267.40,456.58 L261.20,456.58 Z" fill="#952a4a" stroke="#111" stroke-width="0.9" stroke-linejoin="miter"/>
<path d="M219.30,451.97 L222.40,457.57 L216.20,457.57 Z" fill="#952a4a" stroke="#111" stroke-width="0.9" stroke-linejoin="miter"/>
<path d="M261.30,451.97 L264.40,457.57 L258.20,457.57 Z" fill="#952a4a" stroke="#111" stroke-width="0.9" stroke-linejoin="miter"/>
<path d="M222.30,452.96 L225.40,458.56 L219.20,458.56 Z" fill="#952a4a" stroke="#111" stroke-width="0.9" stroke-linejoin="miter"/>
<path d="M258.30,452.96 L261.40,458.56 L255.20,458.56 Z" fill="#952a4a" stroke="#111" stroke-width="0.9" stroke-linejoin="miter"/>
<path d="M225.30,453.95 L228.40,459.55 L222.20,459.55 Z" fill="#952a4a" stroke="#111" stroke-width="0.9" stroke-linejoin="miter"/>
<path d="M255.30,453.95 L258.40,459.55 L252.20,459.55 Z" fill="#952a4a" stroke="#111" stroke-width="0.9" stroke-linejoin="miter"/>
<path d="M228.30,454.94 L231.40,460.54 L225.20,460.54 Z" fill="#952a4a" stroke="#111" stroke-width="0.9" stroke-linejoin="miter"/>
<path d="M252.30,454.94 L255.40,460.54 L249.20,460.54 Z" fill="#952a4a" stroke="#111" stroke-width="0.9" stroke-linejoin="miter"/>
<path d="M231.30,455.93 L234.40,461.53 L228.20,461.53 Z" fill="#952a4a" stroke="#111" stroke-width="0.9" stroke-linejoin="miter"/>
<path d="M249.30,455.93 L252.40,461.53 L246.20,461.53 Z" fill="#952a4a" stroke="#111" stroke-width="0.9" stroke-linejoin="miter"/>
<path d="M234.30,456.92 L237.40,462.52 L231.20,462.52 Z" fill="#952a4a" stroke="#111" stroke-width="0.9" stroke-linejoin="miter"/>
<path d="M246.30,456.92 L249.40,462.52 L243.20,462.52 Z" fill="#952a4a" stroke="#111" stroke-width="0.9" stroke-linejoin="miter"/>
<path d="M237.30,457.91 L240.40,463.51 L234.20,463.51 Z" fill="#952a4a" stroke="#111" stroke-width="0.9" stroke-linejoin="miter"/>
<path d="M243.30,457.91 L246.40,463.51 L240.20,463.51 Z" fill="#952a4a" stroke="#111" stroke-width="0.9" stroke-linejoin="miter"/>
<path d="M240.30,458.90 L243.40,464.50 L237.20,464.50 Z" fill="#952a4a" stroke="#111" stroke-width="0.9" stroke-linejoin="miter"/>
<path d="M216.30,460.48 L219.40,466.08 L213.20,466.08 Z" fill="#952a4a" stroke="#111" stroke-width="0.9" stroke-linejoin="miter"/>
<path d="M264.30,460.48 L267.40,466.08 L261.20,466.08 Z" fill="#952a4a" stroke="#111" stroke-width="0.9" stroke-linejoin="miter"/>
<path d="M219.30,461.47 L222.40,467.07 L216.20,467.07 Z" fill="#952a4a" stroke="#111" stroke-width="0.9" stroke-linejoin="miter"/>
<path d="M261.30,461.47 L264.40,467.07 L258.20,467.07 Z" fill="#952a4a" stroke="#111" stroke-width="0.9" stroke-linejoin="miter"/>
<path d="M222.30,462.46 L225.40,468.06 L219.20,468.06 Z" fill="#952a4a" stroke="#111" stroke-width="0.9" stroke-linejoin="miter"/>
<path d="M258.30,462.46 L261.40,468.06 L255.20,468.06 Z" fill="#952a4a" stroke="#111" stroke-width="0.9" stroke-linejoin="miter"/>
<path d="M225.30,463.45 L228.40,469.05 L222.20,469.05 Z" fill="#952a4a" stroke="#111" stroke-width="0.9" stroke-linejoin="miter"/>
<path d="M255.30,463.45 L258.40,469.05 L252.20,469.05 Z" fill="#952a4a" stroke="#111" stroke-width="0.9" stroke-linejoin="miter"/>
<path d="M228.30,464.44 L231.40,470.04 L225.20,470.04 Z" fill="#952a4a" stroke="#111" stroke-width="0.9" stroke-linejoin="miter"/>
<path d="M252.30,464.44 L255.40,470.04 L249.20,470.04 Z" fill="#952a4a" stroke="#111" stroke-width="0.9" stroke-linejoin="miter"/>
<path d="M231.30,465.43 L234.40,471.03 L228.20,471.03 Z" fill="#952a4a" stroke="#111" stroke-width="0.9" stroke-linejoin="miter"/>
<path d="M249.30,465.43 L252.40,471.03 L246.20,471.03 Z" fill="#952a4a" stroke="#111" stroke-width="0.9" stroke-linejoin="miter"/>
<path d="M234.30,466.42 L237.40,472.02 L231.20,472.02 Z" fill="#952a4a" stroke="#111" stroke-width="0.9" stroke-linejoin="miter"/>
<path d="M246.30,466.42 L249.40,472.02 L243.20,472.02 Z" fill="#952a4a" stroke="#111" stroke-width="0.9" stroke-linejoin="miter"/>
<path d="M237.30,467.41 L240.40,473.01 L234.20,473.01 Z" fill="#952a4a" stroke="#111" stroke-width="0.9" stroke-linejoin="miter"/>
<path d="M243.30,467.41 L246.40,473.01 L240.20,473.01 Z" fill="#952a4a" stroke="#111" stroke-width="0.9" stroke-linejoin="miter"/>
<path d="M240.30,468.40 L243.40,474.00 L237.20,474.00 Z" fill="#952a4a" stroke="#111" stroke-width="0.9" stroke-linejoin="miter"/>
<path d="M216.30,468.98 L219.40,474.58 L213.20,474.58 Z" fill="#952a4a" stroke="#111" stroke-width="0.9" stroke-linejoin="miter"/>
<path d="M264.30,468.98 L267.40,474.58 L261.20,474.58 Z" fill="#952a4a" stroke="#111" stroke-width="0.9" stroke-linejoin="miter"/>
<path d="M219.30,469.97 L222.40,475.57 L216.20,475.57 Z" fill="#952a4a" stroke="#111" stroke-width="0.9" stroke-linejoin="miter"/>
<path d="M261.30,469.97 L264.40,475.57 L258.20,475.57 Z" fill="#952a4a" stroke="#111" stroke-width="0.9" stroke-linejoin="miter"/>
<path d="M222.30,470.96 L225.40,476.56 L219.20,476.56 Z" fill="#952a4a" stroke="#111" stroke-width="0.9" stroke-linejoin="miter"/>
<path d="M258.30,470.96 L261.40,476.56 L255.20,476.56 Z" fill="#952a4a" stroke="#111" stroke-width="0.9" stroke-linejoin="miter"/>
<path d="M225.30,471.95 L228.40,477.55 L222.20,477.55 Z" fill="#952a4a" stroke="#111" stroke-width="0.9" stroke-linejoin="miter"/>
<path d="M255.30,471.95 L258.40,477.55 L252.20,477.55 Z" fill="#952a4a" stroke="#111" stroke-width="0.9" stroke-linejoin="miter"/>
<path d="M228.30,472.94 L231.40,478.54 L225.20,478.54 Z" fill="#952a4a" stroke="#111" stroke-width="0.9" stroke-linejoin="miter"/>
<path d="M252.30,472.94 L255.40,478.54 L249.20,478.54 Z" fill="#952a4a" stroke="#111" stroke-width="0.9" stroke-linejoin="miter"/>
<path d="M231.30,473.93 L234.40,479.53 L228.20,479.53 Z" fill="#952a4a" stroke="#111" stroke-width="0.9" stroke-linejoin="miter"/>
<path d="M249.30,473.93 L252.40,479.53 L246.20,479.53 Z" fill="#952a4a" stroke="#111" stroke-width="0.9" stroke-linejoin="miter"/>
<path d="M234.30,474.92 L237.40,480.52 L231.20,480.52 Z" fill="#952a4a" stroke="#111" stroke-width="0.9" stroke-linejoin="miter"/>
<path d="M246.30,474.92 L249.40,480.52 L243.20,480.52 Z" fill="#952a4a" stroke="#111" stroke-width="0.9" stroke-linejoin="miter"/>
<path d="M237.30,475.91 L240.40,481.51 L234.20,481.51 Z" fill="#952a4a" stroke="#111" stroke-width="0.9" stroke-linejoin="miter"/>
<path d="M243.30,475.91 L246.40,481.51 L240.20,481.51 Z" fill="#952a4a" stroke="#111" stroke-width="0.9" stroke-linejoin="miter"/>
<path d="M240.30,476.90 L243.40,482.50 L237.20,482.50 Z" fill="#952a4a" stroke="#111" stroke-width="0.9" stroke-linejoin="miter"/>
<path d="M216.30,477.48 L219.40,483.08 L213.20,483.08 Z" fill="#952a4a" stroke="#111" stroke-width="0.9" stroke-linejoin="miter"/>
<path d="M264.30,477.48 L267.40,483.08 L261.20,483.08 Z" fill="#952a4a" stroke="#111" stroke-width="0.9" stroke-linejoin="miter"/>
<path d="M219.30,478.47 L222.40,484.07 L216.20,484.07 Z" fill="#952a4a" stroke="#111" stroke-width="0.9" stroke-linejoin="miter"/>
<path d="M261.30,478.47 L264.40,484.07 L258.20,484.07 Z" fill="#952a4a" stroke="#111" stroke-width="0.9" stroke-linejoin="miter"/>
<path d="M222.30,479.46 L225.40,485.06 L219.20,485.06 Z" fill="#952a4a" stroke="#111" stroke-width="0.9" stroke-linejoin="miter"/>
<path d="M258.30,479.46 L261.40,485.06 L255.20,485.06 Z" fill="#952a4a" stroke="#111" stroke-width="0.9" stroke-linejoin="miter"/>
<path d="M225.30,480.45 L228.40,486.05 L222.20,486.05 Z" fill="#952a4a" stroke="#111" stroke-width="0.9" stroke-linejoin="miter"/>
<path d="M255.30,480.45 L258.40,486.05 L252.20,486.05 Z" fill="#952a4a" stroke="#111" stroke-width="0.9" stroke-linejoin="miter"/>
<path d="M228.30,481.44 L231.40,487.04 L225.20,487.04 Z" fill="#952a4a" stroke="#111" stroke-width="0.9" stroke-linejoin="miter"/>
<path d="M252.30,481.44 L255.40,487.04 L249.20,487.04 Z" fill="#952a4a" stroke="#111" stroke-width="0.9" stroke-linejoin="miter"/>
<path d="M231.30,482.43 L234.40,488.03 L228.20,488.03 Z" fill="#952a4a" stroke="#111" stroke-width="0.9" stroke-linejoin="miter"/>
<path d="M249.30,482.43 L252.40,488.03 L246.20,488.03 Z" fill="#952a4a" stroke="#111" stroke-width="0.9" stroke-linejoin="miter"/>
<path d="M234.30,483.42 L237.40,489.02 L231.20,489.02 Z" fill="#952a4a" stroke="#111" stroke-width="0.9" stroke-linejoin="miter"/>
<path d="M246.30,483.42 L249.40,489.02 L243.20,489.02 Z" fill="#952a4a" stroke="#111" stroke-width="0.9" stroke-linejoin="miter"/>
<path d="M237.30,484.41 L240.40,490.01 L234.20,490.01 Z" fill="#952a4a" stroke="#111" stroke-width="0.9" stroke-linejoin="miter"/>
<path d="M243.30,484.41 L246.40,490.01 L240.20,490.01 Z" fill="#952a4a" stroke="#111" stroke-width="0.9" stroke-linejoin="miter"/>
<path d="M240.30,485.40 L243.40,491.00 L237.20,491.00 Z" fill="#952a4a" stroke="#111" stroke-width="0.9" stroke-linejoin="miter"/>
<path d="M231.20,487.70 L234.30,493.30 L228.10,493.30 Z" fill="#952a4a" stroke="#111" stroke-width="0.9" stroke-linejoin="miter"/>
<path d="M240.00,493.30 L243.10,498.90 L236.90,498.90 Z" fill="#952a4a" stroke="#111" stroke-width="0.9" stroke-linejoin="miter"/>
<path d="M248.30,490.90 L251.40,496.50 L245.20,496.50 Z" fill="#952a4a" stroke="#111" stroke-width="0.9" stroke-linejoin="miter"/>
<path d="M326.30,415.40 L329.40,421.00 L323.20,421.00 Z" fill="#484848" stroke="#111" stroke-width="0.9" stroke-linejoin="miter"/>
<path d="M321.90,425.70 L325.00,431.30 L318.80,431.30 Z" fill="#484848" stroke="#111" stroke-width="0.9" stroke-linejoin="miter"/>
<path d="M330.80,425.70 L333.90,431.30 L327.70,431.30 Z" fill="#484848" stroke="#111" stroke-width="0.9" stroke-linejoin="miter"/>
<path d="M302.30,427.38 L305.40,432.98 L299.20,432.98 Z" fill="#484848" stroke="#111" stroke-width="0.9" stroke-linejoin="miter"/>
<path d="M350.30,427.38 L353.40,432.98 L347.20,432.98 Z" fill="#484848" stroke="#111" stroke-width="0.9" stroke-linejoin="miter"/>
<path d="M305.30,428.22 L308.40,433.82 L302.20,433.82 Z" fill="#484848" stroke="#111" stroke-width="0.9" stroke-linejoin="miter"/>
<path d="M347.30,428.22 L350.40,433.82 L344.20,433.82 Z" fill="#484848" stroke="#111" stroke-width="0.9" stroke-linejoin="miter"/>
<path d="M308.30,429.06 L311.40,434.66 L305.20,434.66 Z" fill="#484848" stroke="#111" stroke-width="0.9" stroke-linejoin="miter"/>
<path d="M344.30,429.06 L347.40,434.66 L341.20,434.66 Z" fill="#484848" stroke="#111" stroke-width="0.9" stroke-linejoin="miter"/>
<path d="M311.30,429.90 L314.40,435.50 L308.20,435.50 Z" fill="#484848" stroke="#111" stroke-width="0.9" stroke-linejoin="miter"/>
<path d="M341.30,429.90 L344.40,435.50 L338.20,435.50 Z" fill="#484848" stroke="#111" stroke-width="0.9" stroke-linejoin="miter"/>
<path d="M314.30,430.74 L317.40,436.34 L311.20,436.34 Z" fill="#484848" stroke="#111" stroke-width="0.9" stroke-linejoin="miter"/>
<path d="M338.30,430.74 L341.40,436.34 L335.20,436.34 Z" fill="#484848" stroke="#111" stroke-width="0.9" stroke-linejoin="miter"/>
<path d="M317.30,431.58 L320.40,437.18 L314.20,437.18 Z" fill="#484848" stroke="#111" stroke-width="0.9" stroke-linejoin="miter"/>
<path d="M335.30,431.58 L338.40,437.18 L332.20,437.18 Z" fill="#484848" stroke="#111" stroke-width="0.9" stroke-linejoin="miter"/>
<path d="M320.30,432.42 L323.40,438.02 L317.20,438.02 Z" fill="#484848" stroke="#111" stroke-width="0.9" stroke-linejoin="miter"/>
<path d="M332.30,432.42 L335.40,438.02 L329.20,438.02 Z" fill="#484848" stroke="#111" stroke-width="0.9" stroke-linejoin="miter"/>
<path d="M323.30,433.26 L326.40,438.86 L320.20,438.86 Z" fill="#484848" stroke="#111" stroke-width="0.9" stroke-linejoin="miter"/>
<path d="M329.30,433.26 L332.40,438.86 L326.20,438.86 Z" fill="#484848" stroke="#111" stroke-width="0.9" stroke-linejoin="miter"/>
<path d="M326.30,434.10 L329.40,439.70 L323.20,439.70 Z" fill="#484848" stroke="#111" stroke-width="0.9" stroke-linejoin="miter"/>
<path d="M302.30,437.68 L305.40,443.28 L299.20,443.28 Z" fill="#484848" stroke="#111" stroke-width="0.9" stroke-linejoin="miter"/>
<path d="M350.30,437.68 L353.40,443.28 L347.20,443.28 Z" fill="#484848" stroke="#111" stroke-width="0.9" stroke-linejoin="miter"/>
<path d="M305.30,438.52 L308.40,444.12 L302.20,444.12 Z" fill="#484848" stroke="#111" stroke-width="0.9" stroke-linejoin="miter"/>
<path d="M347.30,438.52 L350.40,444.12 L344.20,444.12 Z" fill="#484848" stroke="#111" stroke-width="0.9" stroke-linejoin="miter"/>
<path d="M308.30,439.36 L311.40,444.96 L305.20,444.96 Z" fill="#484848" stroke="#111" stroke-width="0.9" stroke-linejoin="miter"/>
<path d="M344.30,439.36 L347.40,444.96 L341.20,444.96 Z" fill="#484848" stroke="#111" stroke-width="0.9" stroke-linejoin="miter"/>
<path d="M311.30,440.20 L314.40,445.80 L308.20,445.80 Z" fill="#484848" stroke="#111" stroke-width="0.9" stroke-linejoin="miter"/>
<path d="M341.30,440.20 L344.40,445.80 L338.20,445.80 Z" fill="#484848" stroke="#111" stroke-width="0.9" stroke-linejoin="miter"/>
<path d="M314.30,441.04 L317.40,446.64 L311.20,446.64 Z" fill="#484848" stroke="#111" stroke-width="0.9" stroke-linejoin="miter"/>
<path d="M338.30,441.04 L341.40,446.64 L335.20,446.64 Z" fill="#484848" stroke="#111" stroke-width="0.9" stroke-linejoin="miter"/>
<path d="M317.30,441.88 L320.40,447.48 L314.20,447.48 Z" fill="#484848" stroke="#111" stroke-width="0.9" stroke-linejoin="miter"/>
<path d="M335.30,441.88 L338.40,447.48 L332.20,447.48 Z" fill="#484848" stroke="#111" stroke-width="0.9" stroke-linejoin="miter"/>
<path d="M320.30,442.72 L323.40,448.32 L317.20,448.32 Z" fill="#484848" stroke="#111" stroke-width="0.9" stroke-linejoin="miter"/>
<path d="M332.30,442.72 L335.40,448.32 L329.20,448.32 Z" fill="#484848" stroke="#111" stroke-width="0.9" stroke-linejoin="miter"/>
<path d="M323.30,443.56 L326.40,449.16 L320.20,449.16 Z" fill="#484848" stroke="#111" stroke-width="0.9" stroke-linejoin="miter"/>
<path d="M329.30,443.56 L332.40,449.16 L326.20,449.16 Z" fill="#484848" stroke="#111" stroke-width="0.9" stroke-linejoin="miter"/>
<path d="M326.30,444.40 L329.40,450.00 L323.20,450.00 Z" fill="#484848" stroke="#111" stroke-width="0.9" stroke-linejoin="miter"/>
<path d="M302.30,446.98 L305.40,452.58 L299.20,452.58 Z" fill="#484848" stroke="#111" stroke-width="0.9" stroke-linejoin="miter"/>
<path d="M350.30,446.98 L353.40,452.58 L347.20,452.58 Z" fill="#484848" stroke="#111" stroke-width="0.9" stroke-linejoin="miter"/>
<path d="M305.30,447.82 L308.40,453.42 L302.20,453.42 Z" fill="#484848" stroke="#111" stroke-width="0.9" stroke-linejoin="miter"/>
<path d="M347.30,447.82 L350.40,453.42 L344.20,453.42 Z" fill="#484848" stroke="#111" stroke-width="0.9" stroke-linejoin="miter"/>
<path d="M308.30,448.66 L311.40,454.26 L305.20,454.26 Z" fill="#484848" stroke="#111" stroke-width="0.9" stroke-linejoin="miter"/>
<path d="M344.30,448.66 L347.40,454.26 L341.20,454.26 Z" fill="#484848" stroke="#111" stroke-width="0.9" stroke-linejoin="miter"/>
<path d="M311.30,449.50 L314.40,455.10 L308.20,455.10 Z" fill="#484848" stroke="#111" stroke-width="0.9" stroke-linejoin="miter"/>
<path d="M341.30,449.50 L344.40,455.10 L338.20,455.10 Z" fill="#484848" stroke="#111" stroke-width="0.9" stroke-linejoin="miter"/>
<path d="M314.30,450.34 L317.40,455.94 L311.20,455.94 Z" fill="#484848" stroke="#111" stroke-width="0.9" stroke-linejoin="miter"/>
<path d="M338.30,450.34 L341.40,455.94 L335.20,455.94 Z" fill="#484848" stroke="#111" stroke-width="0.9" stroke-linejoin="miter"/>
<path d="M317.30,451.18 L320.40,456.78 L314.20,456.78 Z" fill="#484848" stroke="#111" stroke-width="0.9" stroke-linejoin="miter"/>
<path d="M335.30,451.18 L338.40,456.78 L332.20,456.78 Z" fill="#484848" stroke="#111" stroke-width="0.9" stroke-linejoin="miter"/>
<path d="M320.30,452.02 L323.40,457.62 L317.20,457.62 Z" fill="#484848" stroke="#111" stroke-width="0.9" stroke-linejoin="miter"/>
<path d="M332.30,452.02 L335.40,457.62 L329.20,457.62 Z" fill="#484848" stroke="#111" stroke-width="0.9" stroke-linejoin="miter"/>
<path d="M323.30,452.86 L326.40,458.46 L320.20,458.46 Z" fill="#484848" stroke="#111" stroke-width="0.9" stroke-linejoin="miter"/>
<path d="M329.30,452.86 L332.40,458.46 L326.20,458.46 Z" fill="#484848" stroke="#111" stroke-width="0.9" stroke-linejoin="miter"/>
<path d="M326.30,453.70 L329.40,459.30 L323.20,459.30 Z" fill="#484848" stroke="#111" stroke-width="0.9" stroke-linejoin="miter"/>
<path d="M302.30,454.78 L305.40,460.38 L299.20,460.38 Z" fill="#484848" stroke="#111" stroke-width="0.9" stroke-linejoin="miter"/>
<path d="M350.30,454.78 L353.40,460.38 L347.20,460.38 Z" fill="#484848" stroke="#111" stroke-width="0.9" stroke-linejoin="miter"/>
<path d="M305.30,455.62 L308.40,461.22 L302.20,461.22 Z" fill="#484848" stroke="#111" stroke-width="0.9" stroke-linejoin="miter"/>
<path d="M347.30,455.62 L350.40,461.22 L344.20,461.22 Z" fill="#484848" stroke="#111" stroke-width="0.9" stroke-linejoin="miter"/>
<path d="M308.30,456.46 L311.40,462.06 L305.20,462.06 Z" fill="#484848" stroke="#111" stroke-width="0.9" stroke-linejoin="miter"/>
<path d="M344.30,456.46 L347.40,462.06 L341.20,462.06 Z" fill="#484848" stroke="#111" stroke-width="0.9" stroke-linejoin="miter"/>
<path d="M311.30,457.30 L314.40,462.90 L308.20,462.90 Z" fill="#484848" stroke="#111" stroke-width="0.9" stroke-linejoin="miter"/>
<path d="M341.30,457.30 L344.40,462.90 L338.20,462.90 Z" fill="#484848" stroke="#111" stroke-width="0.9" stroke-linejoin="miter"/>
<path d="M314.30,458.14 L317.40,463.74 L311.20,463.74 Z" fill="#484848" stroke="#111" stroke-width="0.9" stroke-linejoin="miter"/>
<path d="M338.30,458.14 L341.40,463.74 L335.20,463.74 Z" fill="#484848" stroke="#111" stroke-width="0.9" stroke-linejoin="miter"/>
<path d="M317.30,458.98 L320.40,464.58 L314.20,464.58 Z" fill="#484848" stroke="#111" stroke-width="0.9" stroke-linejoin="miter"/>
<path d="M335.30,458.98 L338.40,464.58 L332.20,464.58 Z" fill="#484848" stroke="#111" stroke-width="0.9" stroke-linejoin="miter"/>
<path d="M320.30,459.82 L323.40,465.42 L317.20,465.42 Z" fill="#484848" stroke="#111" stroke-width="0.9" stroke-linejoin="miter"/>
<path d="M332.30,459.82 L335.40,465.42 L329.20,465.42 Z" fill="#484848" stroke="#111" stroke-width="0.9" stroke-linejoin="miter"/>
<path d="M323.30,460.66 L326.40,466.26 L320.20,466.26 Z" fill="#484848" stroke="#111" stroke-width="0.9" stroke-linejoin="miter"/>
<path d="M329.30,460.66 L332.40,466.26 L326.20,466.26 Z" fill="#484848" stroke="#111" stroke-width="0.9" stroke-linejoin="miter"/>
<path d="M326.30,461.50 L329.40,467.10 L323.20,467.10 Z" fill="#484848" stroke="#111" stroke-width="0.9" stroke-linejoin="miter"/>
<path d="M302.30,463.18 L305.40,468.78 L299.20,468.78 Z" fill="#484848" stroke="#111" stroke-width="0.9" stroke-linejoin="miter"/>
<path d="M350.30,463.18 L353.40,468.78 L347.20,468.78 Z" fill="#484848" stroke="#111" stroke-width="0.9" stroke-linejoin="miter"/>
<path d="M305.30,464.02 L308.40,469.62 L302.20,469.62 Z" fill="#484848" stroke="#111" stroke-width="0.9" stroke-linejoin="miter"/>
<path d="M347.30,464.02 L350.40,469.62 L344.20,469.62 Z" fill="#484848" stroke="#111" stroke-width="0.9" stroke-linejoin="miter"/>
<path d="M308.30,464.86 L311.40,470.46 L305.20,470.46 Z" fill="#484848" stroke="#111" stroke-width="0.9" stroke-linejoin="miter"/>
<path d="M344.30,464.86 L347.40,470.46 L341.20,470.46 Z" fill="#484848" stroke="#111" stroke-width="0.9" stroke-linejoin="miter"/>
<path d="M311.30,465.70 L314.40,471.30 L308.20,471.30 Z" fill="#484848" stroke="#111" stroke-width="0.9" stroke-linejoin="miter"/>
<path d="M341.30,465.70 L344.40,471.30 L338.20,471.30 Z" fill="#484848" stroke="#111" stroke-width="0.9" stroke-linejoin="miter"/>
<path d="M314.30,466.54 L317.40,472.14 L311.20,472.14 Z" fill="#484848" stroke="#111" stroke-width="0.9" stroke-linejoin="miter"/>
<path d="M338.30,466.54 L341.40,472.14 L335.20,472.14 Z" fill="#484848" stroke="#111" stroke-width="0.9" stroke-linejoin="miter"/>
<path d="M317.30,467.38 L320.40,472.98 L314.20,472.98 Z" fill="#484848" stroke="#111" stroke-width="0.9" stroke-linejoin="miter"/>
<path d="M335.30,467.38 L338.40,472.98 L332.20,472.98 Z" fill="#484848" stroke="#111" stroke-width="0.9" stroke-linejoin="miter"/>
<path d="M320.30,468.22 L323.40,473.82 L317.20,473.82 Z" fill="#484848" stroke="#111" stroke-width="0.9" stroke-linejoin="miter"/>
<path d="M332.30,468.22 L335.40,473.82 L329.20,473.82 Z" fill="#484848" stroke="#111" stroke-width="0.9" stroke-linejoin="miter"/>
<path d="M323.30,469.06 L326.40,474.66 L320.20,474.66 Z" fill="#484848" stroke="#111" stroke-width="0.9" stroke-linejoin="miter"/>
<path d="M329.30,469.06 L332.40,474.66 L326.20,474.66 Z" fill="#484848" stroke="#111" stroke-width="0.9" stroke-linejoin="miter"/>
<path d="M326.30,469.90 L329.40,475.50 L323.20,475.50 Z" fill="#484848" stroke="#111" stroke-width="0.9" stroke-linejoin="miter"/>
<path d="M302.30,470.98 L305.40,476.58 L299.20,476.58 Z" fill="#484848" stroke="#111" stroke-width="0.9" stroke-linejoin="miter"/>
<path d="M350.30,470.98 L353.40,476.58 L347.20,476.58 Z" fill="#484848" stroke="#111" stroke-width="0.9" stroke-linejoin="miter"/>
<path d="M305.30,471.82 L308.40,477.42 L302.20,477.42 Z" fill="#484848" stroke="#111" stroke-width="0.9" stroke-linejoin="miter"/>
<path d="M347.30,471.82 L350.40,477.42 L344.20,477.42 Z" fill="#484848" stroke="#111" stroke-width="0.9" stroke-linejoin="miter"/>
<path d="M308.30,472.66 L311.40,478.26 L305.20,478.26 Z" fill="#484848" stroke="#111" stroke-width="0.9" stroke-linejoin="miter"/>
<path d="M344.30,472.66 L347.40,478.26 L341.20,478.26 Z" fill="#484848" stroke="#111" stroke-width="0.9" stroke-linejoin="miter"/>
<path d="M311.30,473.50 L314.40,479.10 L308.20,479.10 Z" fill="#484848" stroke="#111" stroke-width="0.9" stroke-linejoin="miter"/>
<path d="M341.30,473.50 L344.40,479.10 L338.20,479.10 Z" fill="#484848" stroke="#111" stroke-width="0.9" stroke-linejoin="miter"/>
<path d="M314.30,474.34 L317.40,479.94 L311.20,479.94 Z" fill="#484848" stroke="#111" stroke-width="0.9" stroke-linejoin="miter"/>
<path d="M338.30,474.34 L341.40,479.94 L335.20,479.94 Z" fill="#484848" stroke="#111" stroke-width="0.9" stroke-linejoin="miter"/>
<path d="M317.30,475.18 L320.40,480.78 L314.20,480.78 Z" fill="#484848" stroke="#111" stroke-width="0.9" stroke-linejoin="miter"/>
<path d="M335.30,475.18 L338.40,480.78 L332.20,480.78 Z" fill="#484848" stroke="#111" stroke-width="0.9" stroke-linejoin="miter"/>
<path d="M320.30,476.02 L323.40,481.62 L317.20,481.62 Z" fill="#484848" stroke="#111" stroke-width="0.9" stroke-linejoin="miter"/>
<path d="M332.30,476.02 L335.40,481.62 L329.20,481.62 Z" fill="#484848" stroke="#111" stroke-width="0.9" stroke-linejoin="miter"/>
<path d="M323.30,476.86 L326.40,482.46 L320.20,482.46 Z" fill="#484848" stroke="#111" stroke-width="0.9" stroke-linejoin="miter"/>
<path d="M329.30,476.86 L332.40,482.46 L326.20,482.46 Z" fill="#484848" stroke="#111" stroke-width="0.9" stroke-linejoin="miter"/>
<path d="M326.30,477.70 L329.40,483.30 L323.20,483.30 Z" fill="#484848" stroke="#111" stroke-width="0.9" stroke-linejoin="miter"/>
<path d="M302.30,480.18 L305.40,485.78 L299.20,485.78 Z" fill="#484848" stroke="#111" stroke-width="0.9" stroke-linejoin="miter"/>
<path d="M350.30,480.18 L353.40,485.78 L347.20,485.78 Z" fill="#484848" stroke="#111" stroke-width="0.9" stroke-linejoin="miter"/>
<path d="M305.30,481.02 L308.40,486.62 L302.20,486.62 Z" fill="#484848" stroke="#111" stroke-width="0.9" stroke-linejoin="miter"/>
<path d="M347.30,481.02 L350.40,486.62 L344.20,486.62 Z" fill="#484848" stroke="#111" stroke-width="0.9" stroke-linejoin="miter"/>
<path d="M308.30,481.86 L311.40,487.46 L305.20,487.46 Z" fill="#484848" stroke="#111" stroke-width="0.9" stroke-linejoin="miter"/>
<path d="M344.30,481.86 L347.40,487.46 L341.20,487.46 Z" fill="#484848" stroke="#111" stroke-width="0.9" stroke-linejoin="miter"/>
<path d="M311.30,482.70 L314.40,488.30 L308.20,488.30 Z" fill="#484848" stroke="#111" stroke-width="0.9" stroke-linejoin="miter"/>
<path d="M341.30,482.70 L344.40,488.30 L338.20,488.30 Z" fill="#484848" stroke="#111" stroke-width="0.9" stroke-linejoin="miter"/>
<path d="M314.30,483.54 L317.40,489.14 L311.20,489.14 Z" fill="#484848" stroke="#111" stroke-width="0.9" stroke-linejoin="miter"/>
<path d="M338.30,483.54 L341.40,489.14 L335.20,489.14 Z" fill="#484848" stroke="#111" stroke-width="0.9" stroke-linejoin="miter"/>
<path d="M317.30,484.38 L320.40,489.98 L314.20,489.98 Z" fill="#484848" stroke="#111" stroke-width="0.9" stroke-linejoin="miter"/>
<path d="M335.30,484.38 L338.40,489.98 L332.20,489.98 Z" fill="#484848" stroke="#111" stroke-width="0.9" stroke-linejoin="miter"/>
<path d="M320.30,485.22 L323.40,490.82 L317.20,490.82 Z" fill="#484848" stroke="#111" stroke-width="0.9" stroke-linejoin="miter"/>
<path d="M332.30,485.22 L335.40,490.82 L329.20,490.82 Z" fill="#484848" stroke="#111" stroke-width="0.9" stroke-linejoin="miter"/>
<path d="M323.30,486.06 L326.40,491.66 L320.20,491.66 Z" fill="#484848" stroke="#111" stroke-width="0.9" stroke-linejoin="miter"/>
<path d="M329.30,486.06 L332.40,491.66 L326.20,491.66 Z" fill="#484848" stroke="#111" stroke-width="0.9" stroke-linejoin="miter"/>
<path d="M326.30,486.90 L329.40,492.50 L323.20,492.50 Z" fill="#484848" stroke="#111" stroke-width="0.9" stroke-linejoin="miter"/>
<path d="M300.80,490.90 L303.90,496.50 L297.70,496.50 Z" fill="#484848" stroke="#111" stroke-width="0.9" stroke-linejoin="miter"/>
<path d="M308.20,492.90 L311.30,498.50 L305.10,498.50 Z" fill="#484848" stroke="#111" stroke-width="0.9" stroke-linejoin="miter"/>
<path d="M315.30,493.60 L318.40,499.20 L312.20,499.20 Z" fill="#484848" stroke="#111" stroke-width="0.9" stroke-linejoin="miter"/>
<path d="M323.00,499.00 L326.10,504.60 L319.90,504.60 Z" fill="#484848" stroke="#111" stroke-width="0.9" stroke-linejoin="miter"/>
<path d="M330.00,499.30 L333.10,504.90 L326.90,504.90 Z" fill="#484848" stroke="#111" stroke-width="0.9" stroke-linejoin="miter"/>
<path d="M337.10,495.60 L340.20,501.20 L334.00,501.20 Z" fill="#484848" stroke="#111" stroke-width="0.9" stroke-linejoin="miter"/>
<path d="M344.50,493.40 L347.60,499.00 L341.40,499.00 Z" fill="#484848" stroke="#111" stroke-width="0.9" stroke-linejoin="miter"/>
<path d="M351.90,492.30 L355.00,497.90 L348.80,497.90 Z" fill="#484848" stroke="#111" stroke-width="0.9" stroke-linejoin="miter"/>
<path d="M318.00,502.80 L321.10,508.40 L314.90,508.40 Z" fill="#484848" stroke="#111" stroke-width="0.9" stroke-linejoin="miter"/>
<path d="M335.10,503.70 L338.20,509.30 L332.00,509.30 Z" fill="#484848" stroke="#111" stroke-width="0.9" stroke-linejoin="miter"/>
<path d="M326.10,508.40 L329.20,514.00 L323.00,514.00 Z" fill="#484848" stroke="#111" stroke-width="0.9" stroke-linejoin="miter"/>
</svg>
</body></html>
